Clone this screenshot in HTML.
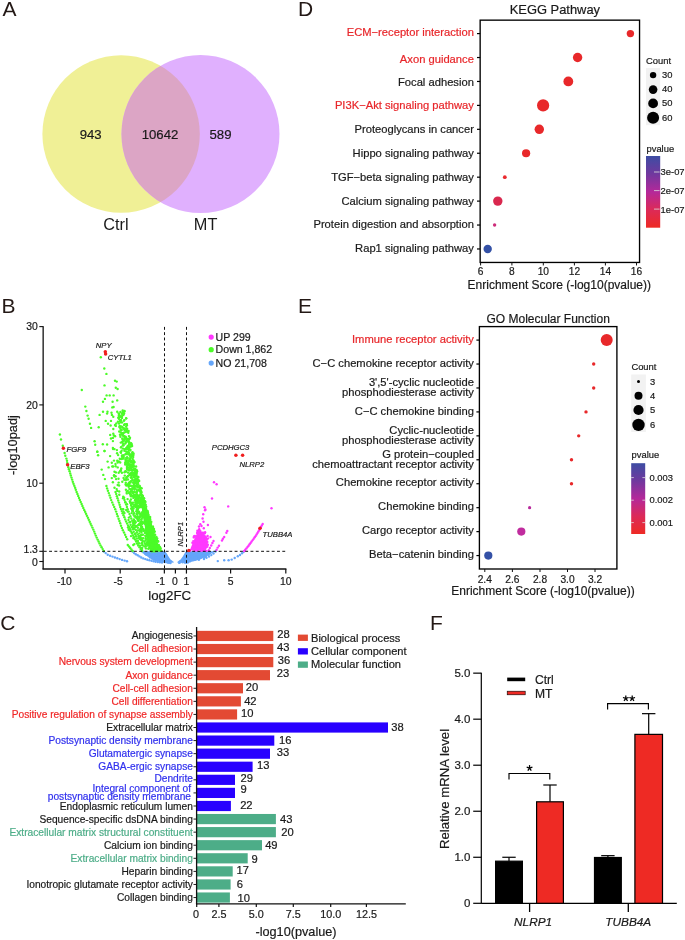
<!DOCTYPE html>
<html><head><meta charset="utf-8"><style>
html,body{margin:0;padding:0;background:#fff;}
body{width:685px;height:940px;overflow:hidden;}
svg{display:block;font-family:"Liberation Sans",sans-serif;will-change:transform;}
</style></head><body>
<svg width="685" height="940" viewBox="0 0 685 940">
<rect width="685" height="940" fill="#fff"/>
<text x="2.60" y="15.60" font-size="21" text-anchor="start" fill="#231815" >A</text>
<text x="1.60" y="313.00" font-size="21" text-anchor="start" fill="#231815" >B</text>
<text x="0.20" y="630.20" font-size="21" text-anchor="start" fill="#231815" >C</text>
<text x="298.00" y="15.70" font-size="21" text-anchor="start" fill="#231815" >D</text>
<text x="298.00" y="312.80" font-size="21" text-anchor="start" fill="#231815" >E</text>
<text x="430.00" y="629.80" font-size="21" text-anchor="start" fill="#231815" >F</text>
<defs><clipPath id="cl"><circle cx="121.1" cy="134" r="78.7"/></clipPath></defs>
<circle cx="121.10" cy="134.00" r="78.70" fill="#F0F096" />
<circle cx="200.50" cy="134.00" r="79.00" fill="#E0B0FE" />
<g clip-path="url(#cl)">
<circle cx="200.50" cy="134.00" r="79.00" fill="#DCA5C5" />
</g>
<text x="90.70" y="138.50" font-size="13.2" text-anchor="middle" fill="#1a1a1a" stroke="#1a1a1a" stroke-width="0.2" >943</text>
<text x="160.00" y="138.50" font-size="13.2" text-anchor="middle" fill="#1a1a1a" stroke="#1a1a1a" stroke-width="0.2" >10642</text>
<text x="220.50" y="138.50" font-size="13.2" text-anchor="middle" fill="#1a1a1a" stroke="#1a1a1a" stroke-width="0.2" >589</text>
<text x="116.00" y="230.40" font-size="16.3" text-anchor="middle" fill="#1a1a1a" >Ctrl</text>
<text x="205.60" y="230.40" font-size="16.3" text-anchor="middle" fill="#1a1a1a" >MT</text>
<polygon points="142.5,551.2 165.0,551.2 166.8,553.5 168.5,556.5 170.5,559.4 172.5,561.0 174.2,562.2 172.0,562.8 166.0,562.3 159.0,561.3 152.0,559.5 146.5,555.5" fill="#64A6FA"/>
<polygon points="186.0,551.2 215.5,551.2 211.5,553.6 206.0,556.8 200.0,559.6 193.0,561.4 185.0,562.5 176.8,562.4 178.5,561.1 180.6,559.4 182.8,556.5 184.5,553.5" fill="#64A6FA"/>
<circle cx="152.8" cy="553.5" r="1.2" fill="#64A6FA"/>
<circle cx="159.5" cy="556.0" r="1.2" fill="#64A6FA"/>
<circle cx="146.4" cy="554.4" r="1.2" fill="#64A6FA"/>
<circle cx="160.8" cy="556.4" r="1.2" fill="#64A6FA"/>
<circle cx="147.1" cy="553.2" r="1.2" fill="#64A6FA"/>
<circle cx="162.8" cy="556.1" r="1.2" fill="#64A6FA"/>
<circle cx="164.1" cy="556.8" r="1.2" fill="#64A6FA"/>
<circle cx="152.5" cy="558.6" r="1.2" fill="#64A6FA"/>
<circle cx="156.9" cy="555.3" r="1.2" fill="#64A6FA"/>
<circle cx="167.7" cy="559.9" r="1.2" fill="#64A6FA"/>
<circle cx="165.6" cy="555.1" r="1.2" fill="#64A6FA"/>
<circle cx="155.8" cy="560.6" r="1.2" fill="#64A6FA"/>
<circle cx="166.7" cy="558.4" r="1.2" fill="#64A6FA"/>
<circle cx="164.5" cy="558.7" r="1.2" fill="#64A6FA"/>
<circle cx="160.9" cy="557.1" r="1.2" fill="#64A6FA"/>
<circle cx="169.1" cy="562.8" r="1.2" fill="#64A6FA"/>
<circle cx="157.5" cy="559.5" r="1.2" fill="#64A6FA"/>
<circle cx="154.7" cy="559.6" r="1.2" fill="#64A6FA"/>
<circle cx="147.8" cy="553.2" r="1.2" fill="#64A6FA"/>
<circle cx="146.6" cy="554.7" r="1.2" fill="#64A6FA"/>
<circle cx="168.5" cy="561.8" r="1.2" fill="#64A6FA"/>
<circle cx="151.3" cy="556.6" r="1.2" fill="#64A6FA"/>
<circle cx="148.1" cy="554.5" r="1.2" fill="#64A6FA"/>
<circle cx="149.9" cy="557.4" r="1.2" fill="#64A6FA"/>
<circle cx="161.2" cy="554.8" r="1.2" fill="#64A6FA"/>
<circle cx="154.2" cy="558.4" r="1.2" fill="#64A6FA"/>
<circle cx="158.8" cy="559.0" r="1.2" fill="#64A6FA"/>
<circle cx="170.2" cy="561.1" r="1.2" fill="#64A6FA"/>
<circle cx="154.9" cy="556.4" r="1.2" fill="#64A6FA"/>
<circle cx="149.1" cy="553.7" r="1.2" fill="#64A6FA"/>
<circle cx="162.0" cy="553.5" r="1.2" fill="#64A6FA"/>
<circle cx="150.5" cy="555.8" r="1.2" fill="#64A6FA"/>
<circle cx="154.0" cy="553.2" r="1.2" fill="#64A6FA"/>
<circle cx="157.3" cy="557.4" r="1.2" fill="#64A6FA"/>
<circle cx="145.2" cy="553.0" r="1.2" fill="#64A6FA"/>
<circle cx="153.4" cy="554.9" r="1.2" fill="#64A6FA"/>
<circle cx="159.2" cy="553.5" r="1.2" fill="#64A6FA"/>
<circle cx="150.8" cy="556.1" r="1.2" fill="#64A6FA"/>
<circle cx="159.4" cy="560.8" r="1.2" fill="#64A6FA"/>
<circle cx="153.0" cy="554.4" r="1.2" fill="#64A6FA"/>
<circle cx="169.5" cy="561.2" r="1.2" fill="#64A6FA"/>
<circle cx="168.4" cy="560.4" r="1.2" fill="#64A6FA"/>
<circle cx="149.5" cy="554.4" r="1.2" fill="#64A6FA"/>
<circle cx="148.7" cy="554.2" r="1.2" fill="#64A6FA"/>
<circle cx="163.2" cy="561.1" r="1.2" fill="#64A6FA"/>
<circle cx="166.3" cy="557.3" r="1.2" fill="#64A6FA"/>
<circle cx="146.5" cy="553.6" r="1.2" fill="#64A6FA"/>
<circle cx="153.6" cy="558.2" r="1.2" fill="#64A6FA"/>
<circle cx="150.5" cy="555.2" r="1.2" fill="#64A6FA"/>
<circle cx="150.7" cy="556.7" r="1.2" fill="#64A6FA"/>
<circle cx="153.7" cy="557.1" r="1.2" fill="#64A6FA"/>
<circle cx="158.4" cy="558.0" r="1.2" fill="#64A6FA"/>
<circle cx="156.5" cy="553.9" r="1.2" fill="#64A6FA"/>
<circle cx="165.5" cy="558.3" r="1.2" fill="#64A6FA"/>
<circle cx="152.8" cy="557.8" r="1.2" fill="#64A6FA"/>
<circle cx="160.1" cy="560.9" r="1.2" fill="#64A6FA"/>
<circle cx="150.4" cy="555.0" r="1.2" fill="#64A6FA"/>
<circle cx="167.0" cy="557.7" r="1.2" fill="#64A6FA"/>
<circle cx="160.3" cy="560.6" r="1.2" fill="#64A6FA"/>
<circle cx="161.9" cy="557.7" r="1.2" fill="#64A6FA"/>
<circle cx="158.7" cy="559.8" r="1.2" fill="#64A6FA"/>
<circle cx="156.8" cy="558.0" r="1.2" fill="#64A6FA"/>
<circle cx="164.7" cy="562.0" r="1.2" fill="#64A6FA"/>
<circle cx="167.4" cy="562.2" r="1.2" fill="#64A6FA"/>
<circle cx="163.4" cy="553.5" r="1.2" fill="#64A6FA"/>
<circle cx="170.5" cy="563.0" r="1.2" fill="#64A6FA"/>
<circle cx="155.1" cy="557.5" r="1.2" fill="#64A6FA"/>
<circle cx="158.8" cy="555.7" r="1.2" fill="#64A6FA"/>
<circle cx="148.7" cy="555.5" r="1.2" fill="#64A6FA"/>
<circle cx="198.2" cy="556.8" r="1.2" fill="#64A6FA"/>
<circle cx="200.9" cy="557.6" r="1.2" fill="#64A6FA"/>
<circle cx="179.3" cy="562.9" r="1.2" fill="#64A6FA"/>
<circle cx="187.3" cy="553.3" r="1.2" fill="#64A6FA"/>
<circle cx="208.5" cy="554.7" r="1.2" fill="#64A6FA"/>
<circle cx="182.6" cy="562.2" r="1.2" fill="#64A6FA"/>
<circle cx="198.9" cy="559.7" r="1.2" fill="#64A6FA"/>
<circle cx="203.4" cy="556.6" r="1.2" fill="#64A6FA"/>
<circle cx="179.6" cy="562.4" r="1.2" fill="#64A6FA"/>
<circle cx="194.4" cy="555.6" r="1.2" fill="#64A6FA"/>
<circle cx="187.2" cy="553.3" r="1.2" fill="#64A6FA"/>
<circle cx="197.2" cy="554.5" r="1.2" fill="#64A6FA"/>
<circle cx="188.9" cy="555.2" r="1.2" fill="#64A6FA"/>
<circle cx="206.2" cy="555.1" r="1.2" fill="#64A6FA"/>
<circle cx="196.2" cy="553.8" r="1.2" fill="#64A6FA"/>
<circle cx="184.1" cy="557.2" r="1.2" fill="#64A6FA"/>
<circle cx="192.0" cy="557.5" r="1.2" fill="#64A6FA"/>
<circle cx="190.1" cy="561.2" r="1.2" fill="#64A6FA"/>
<circle cx="192.5" cy="555.7" r="1.2" fill="#64A6FA"/>
<circle cx="186.7" cy="553.6" r="1.2" fill="#64A6FA"/>
<circle cx="187.7" cy="554.5" r="1.2" fill="#64A6FA"/>
<circle cx="188.1" cy="557.0" r="1.2" fill="#64A6FA"/>
<circle cx="186.3" cy="562.7" r="1.2" fill="#64A6FA"/>
<circle cx="188.8" cy="555.8" r="1.2" fill="#64A6FA"/>
<circle cx="195.2" cy="557.5" r="1.2" fill="#64A6FA"/>
<circle cx="184.6" cy="557.5" r="1.2" fill="#64A6FA"/>
<circle cx="188.6" cy="554.4" r="1.2" fill="#64A6FA"/>
<circle cx="199.5" cy="557.8" r="1.2" fill="#64A6FA"/>
<circle cx="191.9" cy="555.5" r="1.2" fill="#64A6FA"/>
<circle cx="180.9" cy="561.2" r="1.2" fill="#64A6FA"/>
<circle cx="198.4" cy="558.9" r="1.2" fill="#64A6FA"/>
<circle cx="196.3" cy="557.8" r="1.2" fill="#64A6FA"/>
<circle cx="205.3" cy="554.6" r="1.2" fill="#64A6FA"/>
<circle cx="205.0" cy="554.1" r="1.2" fill="#64A6FA"/>
<circle cx="195.9" cy="556.1" r="1.2" fill="#64A6FA"/>
<circle cx="195.3" cy="559.5" r="1.2" fill="#64A6FA"/>
<circle cx="205.6" cy="555.2" r="1.2" fill="#64A6FA"/>
<circle cx="202.9" cy="555.1" r="1.2" fill="#64A6FA"/>
<circle cx="196.8" cy="557.1" r="1.2" fill="#64A6FA"/>
<circle cx="194.8" cy="553.1" r="1.2" fill="#64A6FA"/>
<circle cx="194.2" cy="554.8" r="1.2" fill="#64A6FA"/>
<circle cx="184.9" cy="562.5" r="1.2" fill="#64A6FA"/>
<circle cx="185.0" cy="558.4" r="1.2" fill="#64A6FA"/>
<circle cx="185.8" cy="561.9" r="1.2" fill="#64A6FA"/>
<circle cx="194.2" cy="555.2" r="1.2" fill="#64A6FA"/>
<circle cx="189.0" cy="561.3" r="1.2" fill="#64A6FA"/>
<circle cx="209.3" cy="553.2" r="1.2" fill="#64A6FA"/>
<circle cx="191.2" cy="556.2" r="1.2" fill="#64A6FA"/>
<circle cx="190.8" cy="556.6" r="1.2" fill="#64A6FA"/>
<circle cx="180.7" cy="561.2" r="1.2" fill="#64A6FA"/>
<circle cx="187.9" cy="562.4" r="1.2" fill="#64A6FA"/>
<circle cx="186.4" cy="554.8" r="1.2" fill="#64A6FA"/>
<circle cx="196.6" cy="553.9" r="1.2" fill="#64A6FA"/>
<circle cx="205.1" cy="556.9" r="1.2" fill="#64A6FA"/>
<circle cx="195.1" cy="555.7" r="1.2" fill="#64A6FA"/>
<circle cx="188.3" cy="560.2" r="1.2" fill="#64A6FA"/>
<circle cx="202.2" cy="555.2" r="1.2" fill="#64A6FA"/>
<circle cx="198.4" cy="556.3" r="1.2" fill="#64A6FA"/>
<circle cx="184.8" cy="562.0" r="1.2" fill="#64A6FA"/>
<circle cx="196.0" cy="554.3" r="1.2" fill="#64A6FA"/>
<circle cx="194.2" cy="553.4" r="1.2" fill="#64A6FA"/>
<circle cx="190.0" cy="552.8" r="1.2" fill="#64A6FA"/>
<circle cx="186.1" cy="554.7" r="1.2" fill="#64A6FA"/>
<circle cx="205.8" cy="556.5" r="1.2" fill="#64A6FA"/>
<circle cx="192.8" cy="557.7" r="1.2" fill="#64A6FA"/>
<circle cx="191.4" cy="555.6" r="1.2" fill="#64A6FA"/>
<circle cx="196.3" cy="558.9" r="1.2" fill="#64A6FA"/>
<circle cx="187.3" cy="554.6" r="1.2" fill="#64A6FA"/>
<circle cx="192.3" cy="556.8" r="1.2" fill="#64A6FA"/>
<circle cx="103.8" cy="551.5" r="1.2" fill="#64A6FA"/>
<circle cx="105.7" cy="553.1" r="1.2" fill="#64A6FA"/>
<circle cx="107.7" cy="554.7" r="1.2" fill="#64A6FA"/>
<circle cx="110.1" cy="555.7" r="1.2" fill="#64A6FA"/>
<circle cx="112.5" cy="556.6" r="1.2" fill="#64A6FA"/>
<circle cx="114.9" cy="557.5" r="1.2" fill="#64A6FA"/>
<circle cx="117.3" cy="558.3" r="1.2" fill="#64A6FA"/>
<circle cx="119.7" cy="559.1" r="1.2" fill="#64A6FA"/>
<circle cx="122.1" cy="559.9" r="1.2" fill="#64A6FA"/>
<circle cx="124.6" cy="560.6" r="1.2" fill="#64A6FA"/>
<circle cx="127.0" cy="561.3" r="1.2" fill="#64A6FA"/>
<circle cx="132.6" cy="551.5" r="1.2" fill="#64A6FA"/>
<circle cx="134.1" cy="553.1" r="1.2" fill="#64A6FA"/>
<circle cx="135.8" cy="554.2" r="1.2" fill="#64A6FA"/>
<circle cx="137.7" cy="555.3" r="1.2" fill="#64A6FA"/>
<circle cx="139.5" cy="556.4" r="1.2" fill="#64A6FA"/>
<circle cx="141.3" cy="557.5" r="1.2" fill="#64A6FA"/>
<circle cx="143.3" cy="558.4" r="1.2" fill="#64A6FA"/>
<circle cx="145.3" cy="559.1" r="1.2" fill="#64A6FA"/>
<circle cx="147.3" cy="559.8" r="1.2" fill="#64A6FA"/>
<circle cx="149.4" cy="560.3" r="1.2" fill="#64A6FA"/>
<circle cx="151.5" cy="560.8" r="1.2" fill="#64A6FA"/>
<circle cx="153.6" cy="561.3" r="1.2" fill="#64A6FA"/>
<circle cx="155.6" cy="561.7" r="1.2" fill="#64A6FA"/>
<circle cx="157.8" cy="562.0" r="1.2" fill="#64A6FA"/>
<circle cx="159.9" cy="562.3" r="1.2" fill="#64A6FA"/>
<circle cx="162.0" cy="562.6" r="1.2" fill="#64A6FA"/>
<circle cx="142.1" cy="551.3" r="1.2" fill="#64A6FA"/>
<circle cx="143.6" cy="552.5" r="1.2" fill="#64A6FA"/>
<circle cx="145.0" cy="553.7" r="1.2" fill="#64A6FA"/>
<circle cx="146.6" cy="554.8" r="1.2" fill="#64A6FA"/>
<circle cx="148.3" cy="555.6" r="1.2" fill="#64A6FA"/>
<circle cx="150.0" cy="556.5" r="1.2" fill="#64A6FA"/>
<circle cx="151.7" cy="557.3" r="1.2" fill="#64A6FA"/>
<circle cx="153.5" cy="558.1" r="1.2" fill="#64A6FA"/>
<circle cx="155.2" cy="558.7" r="1.2" fill="#64A6FA"/>
<circle cx="157.0" cy="559.4" r="1.2" fill="#64A6FA"/>
<circle cx="158.8" cy="560.1" r="1.2" fill="#64A6FA"/>
<circle cx="160.6" cy="560.7" r="1.2" fill="#64A6FA"/>
<circle cx="162.5" cy="561.1" r="1.2" fill="#64A6FA"/>
<circle cx="164.3" cy="561.6" r="1.2" fill="#64A6FA"/>
<circle cx="166.2" cy="562.0" r="1.2" fill="#64A6FA"/>
<circle cx="168.0" cy="562.5" r="1.2" fill="#64A6FA"/>
<circle cx="217.8" cy="561.1" r="1.2" fill="#64A6FA"/>
<circle cx="224.2" cy="560.3" r="1.2" fill="#64A6FA"/>
<circle cx="228.6" cy="560.3" r="1.2" fill="#64A6FA"/>
<circle cx="231.7" cy="559.6" r="1.2" fill="#64A6FA"/>
<circle cx="234.7" cy="558.0" r="1.2" fill="#64A6FA"/>
<circle cx="237.8" cy="556.3" r="1.2" fill="#64A6FA"/>
<circle cx="240.0" cy="555.0" r="1.2" fill="#64A6FA"/>
<circle cx="242.0" cy="553.2" r="1.2" fill="#64A6FA"/>
<circle cx="243.6" cy="551.8" r="1.2" fill="#64A6FA"/>
<circle cx="215.5" cy="551.5" r="1.2" fill="#64A6FA"/>
<circle cx="213.5" cy="553.5" r="1.2" fill="#64A6FA"/>
<circle cx="211.3" cy="555.1" r="1.2" fill="#64A6FA"/>
<circle cx="209.0" cy="556.5" r="1.2" fill="#64A6FA"/>
<circle cx="206.5" cy="557.8" r="1.2" fill="#64A6FA"/>
<circle cx="204.0" cy="559.0" r="1.2" fill="#64A6FA"/>
<circle cx="59.9" cy="434.5" r="1.2" fill="#4BFB28"/>
<circle cx="61.0" cy="439.5" r="1.2" fill="#4BFB28"/>
<circle cx="62.8" cy="445.8" r="1.2" fill="#4BFB28"/>
<circle cx="64.6" cy="453.0" r="1.2" fill="#4BFB28"/>
<circle cx="65.3" cy="455.7" r="1.2" fill="#4BFB28"/>
<circle cx="66.4" cy="458.6" r="1.2" fill="#4BFB28"/>
<circle cx="67.0" cy="460.8" r="1.2" fill="#4BFB28"/>
<circle cx="67.3" cy="462.9" r="1.2" fill="#4BFB28"/>
<circle cx="67.7" cy="465.1" r="1.2" fill="#4BFB28"/>
<circle cx="68.3" cy="467.2" r="1.2" fill="#4BFB28"/>
<circle cx="68.9" cy="469.2" r="1.2" fill="#4BFB28"/>
<circle cx="69.6" cy="471.3" r="1.2" fill="#4BFB28"/>
<circle cx="70.2" cy="473.4" r="1.2" fill="#4BFB28"/>
<circle cx="70.8" cy="475.5" r="1.2" fill="#4BFB28"/>
<circle cx="71.5" cy="477.6" r="1.2" fill="#4BFB28"/>
<circle cx="72.1" cy="479.6" r="1.2" fill="#4BFB28"/>
<circle cx="72.8" cy="481.7" r="1.2" fill="#4BFB28"/>
<circle cx="73.5" cy="483.7" r="1.2" fill="#4BFB28"/>
<circle cx="74.3" cy="485.8" r="1.2" fill="#4BFB28"/>
<circle cx="75.1" cy="487.8" r="1.2" fill="#4BFB28"/>
<circle cx="75.8" cy="489.8" r="1.2" fill="#4BFB28"/>
<circle cx="76.6" cy="491.9" r="1.2" fill="#4BFB28"/>
<circle cx="77.4" cy="493.9" r="1.2" fill="#4BFB28"/>
<circle cx="78.2" cy="495.9" r="1.2" fill="#4BFB28"/>
<circle cx="79.0" cy="497.9" r="1.2" fill="#4BFB28"/>
<circle cx="79.8" cy="499.9" r="1.2" fill="#4BFB28"/>
<circle cx="80.7" cy="501.9" r="1.2" fill="#4BFB28"/>
<circle cx="81.6" cy="503.9" r="1.2" fill="#4BFB28"/>
<circle cx="82.4" cy="505.9" r="1.2" fill="#4BFB28"/>
<circle cx="83.3" cy="507.9" r="1.2" fill="#4BFB28"/>
<circle cx="84.2" cy="509.9" r="1.2" fill="#4BFB28"/>
<circle cx="85.1" cy="511.8" r="1.2" fill="#4BFB28"/>
<circle cx="86.0" cy="513.8" r="1.2" fill="#4BFB28"/>
<circle cx="86.9" cy="515.8" r="1.2" fill="#4BFB28"/>
<circle cx="87.9" cy="517.7" r="1.2" fill="#4BFB28"/>
<circle cx="88.8" cy="519.7" r="1.2" fill="#4BFB28"/>
<circle cx="89.7" cy="521.7" r="1.2" fill="#4BFB28"/>
<circle cx="90.6" cy="523.7" r="1.2" fill="#4BFB28"/>
<circle cx="91.5" cy="525.6" r="1.2" fill="#4BFB28"/>
<circle cx="92.4" cy="527.6" r="1.2" fill="#4BFB28"/>
<circle cx="93.3" cy="529.6" r="1.2" fill="#4BFB28"/>
<circle cx="94.2" cy="531.6" r="1.2" fill="#4BFB28"/>
<circle cx="95.0" cy="533.6" r="1.2" fill="#4BFB28"/>
<circle cx="95.8" cy="535.6" r="1.2" fill="#4BFB28"/>
<circle cx="96.7" cy="537.6" r="1.2" fill="#4BFB28"/>
<circle cx="97.6" cy="539.6" r="1.2" fill="#4BFB28"/>
<circle cx="98.6" cy="541.5" r="1.2" fill="#4BFB28"/>
<circle cx="99.5" cy="543.4" r="1.2" fill="#4BFB28"/>
<circle cx="100.5" cy="545.4" r="1.2" fill="#4BFB28"/>
<circle cx="101.6" cy="547.2" r="1.2" fill="#4BFB28"/>
<circle cx="102.7" cy="549.1" r="1.2" fill="#4BFB28"/>
<circle cx="103.8" cy="551.0" r="1.2" fill="#4BFB28"/>
<circle cx="81.8" cy="390.0" r="1.2" fill="#4BFB28"/>
<circle cx="85.3" cy="406.6" r="1.2" fill="#4BFB28"/>
<circle cx="86.4" cy="411.0" r="1.2" fill="#4BFB28"/>
<circle cx="87.6" cy="415.6" r="1.2" fill="#4BFB28"/>
<circle cx="88.6" cy="418.8" r="1.2" fill="#4BFB28"/>
<circle cx="89.9" cy="423.8" r="1.2" fill="#4BFB28"/>
<circle cx="91.1" cy="427.9" r="1.2" fill="#4BFB28"/>
<circle cx="94.6" cy="441.3" r="1.2" fill="#4BFB28"/>
<circle cx="95.2" cy="444.8" r="1.2" fill="#4BFB28"/>
<circle cx="97.3" cy="451.8" r="1.2" fill="#4BFB28"/>
<circle cx="98.1" cy="455.3" r="1.2" fill="#4BFB28"/>
<circle cx="101.7" cy="469.6" r="1.2" fill="#4BFB28"/>
<circle cx="103.3" cy="474.9" r="1.2" fill="#4BFB28"/>
<circle cx="104.9" cy="479.1" r="1.2" fill="#4BFB28"/>
<circle cx="106.4" cy="486.0" r="1.2" fill="#4BFB28"/>
<circle cx="107.1" cy="488.4" r="1.2" fill="#4BFB28"/>
<circle cx="107.9" cy="490.7" r="1.2" fill="#4BFB28"/>
<circle cx="108.8" cy="493.1" r="1.2" fill="#4BFB28"/>
<circle cx="109.6" cy="495.4" r="1.2" fill="#4BFB28"/>
<circle cx="110.4" cy="497.8" r="1.2" fill="#4BFB28"/>
<circle cx="111.2" cy="500.1" r="1.2" fill="#4BFB28"/>
<circle cx="112.2" cy="502.4" r="1.2" fill="#4BFB28"/>
<circle cx="113.2" cy="504.7" r="1.2" fill="#4BFB28"/>
<circle cx="114.2" cy="507.0" r="1.2" fill="#4BFB28"/>
<circle cx="115.2" cy="509.3" r="1.2" fill="#4BFB28"/>
<circle cx="116.1" cy="511.6" r="1.2" fill="#4BFB28"/>
<circle cx="116.9" cy="514.0" r="1.2" fill="#4BFB28"/>
<circle cx="117.7" cy="516.3" r="1.2" fill="#4BFB28"/>
<circle cx="118.6" cy="518.7" r="1.2" fill="#4BFB28"/>
<circle cx="119.4" cy="521.0" r="1.2" fill="#4BFB28"/>
<circle cx="120.2" cy="523.3" r="1.2" fill="#4BFB28"/>
<circle cx="121.0" cy="525.7" r="1.2" fill="#4BFB28"/>
<circle cx="121.9" cy="528.0" r="1.2" fill="#4BFB28"/>
<circle cx="122.9" cy="530.3" r="1.2" fill="#4BFB28"/>
<circle cx="124.0" cy="532.5" r="1.2" fill="#4BFB28"/>
<circle cx="125.1" cy="534.8" r="1.2" fill="#4BFB28"/>
<circle cx="126.1" cy="537.0" r="1.2" fill="#4BFB28"/>
<circle cx="127.2" cy="539.3" r="1.2" fill="#4BFB28"/>
<circle cx="127.8" cy="545.0" r="1.2" fill="#4BFB28"/>
<circle cx="129.0" cy="546.5" r="1.2" fill="#4BFB28"/>
<circle cx="130.2" cy="548.0" r="1.2" fill="#4BFB28"/>
<circle cx="131.4" cy="549.5" r="1.2" fill="#4BFB28"/>
<circle cx="132.6" cy="551.0" r="1.2" fill="#4BFB28"/>
<circle cx="115.5" cy="491.9" r="1.2" fill="#4BFB28"/>
<circle cx="116.2" cy="494.0" r="1.2" fill="#4BFB28"/>
<circle cx="116.9" cy="496.2" r="1.2" fill="#4BFB28"/>
<circle cx="117.5" cy="498.3" r="1.2" fill="#4BFB28"/>
<circle cx="118.2" cy="500.5" r="1.2" fill="#4BFB28"/>
<circle cx="118.9" cy="502.6" r="1.2" fill="#4BFB28"/>
<circle cx="119.6" cy="504.7" r="1.2" fill="#4BFB28"/>
<circle cx="120.2" cy="506.9" r="1.2" fill="#4BFB28"/>
<circle cx="120.9" cy="509.0" r="1.2" fill="#4BFB28"/>
<circle cx="121.8" cy="511.1" r="1.2" fill="#4BFB28"/>
<circle cx="122.6" cy="513.2" r="1.2" fill="#4BFB28"/>
<circle cx="123.5" cy="515.2" r="1.2" fill="#4BFB28"/>
<circle cx="124.4" cy="517.3" r="1.2" fill="#4BFB28"/>
<circle cx="125.2" cy="519.4" r="1.2" fill="#4BFB28"/>
<circle cx="126.1" cy="521.5" r="1.2" fill="#4BFB28"/>
<circle cx="127.1" cy="523.5" r="1.2" fill="#4BFB28"/>
<circle cx="128.1" cy="525.5" r="1.2" fill="#4BFB28"/>
<circle cx="129.1" cy="527.5" r="1.2" fill="#4BFB28"/>
<circle cx="130.1" cy="529.5" r="1.2" fill="#4BFB28"/>
<circle cx="131.1" cy="531.5" r="1.2" fill="#4BFB28"/>
<circle cx="132.1" cy="533.5" r="1.2" fill="#4BFB28"/>
<circle cx="133.1" cy="535.5" r="1.2" fill="#4BFB28"/>
<circle cx="134.1" cy="537.5" r="1.2" fill="#4BFB28"/>
<circle cx="135.1" cy="539.5" r="1.2" fill="#4BFB28"/>
<circle cx="136.1" cy="541.5" r="1.2" fill="#4BFB28"/>
<circle cx="137.1" cy="543.5" r="1.2" fill="#4BFB28"/>
<circle cx="138.2" cy="545.5" r="1.2" fill="#4BFB28"/>
<circle cx="139.5" cy="547.3" r="1.2" fill="#4BFB28"/>
<circle cx="140.8" cy="549.2" r="1.2" fill="#4BFB28"/>
<circle cx="142.1" cy="551.0" r="1.2" fill="#4BFB28"/>
<circle cx="98.7" cy="427.3" r="1.2" fill="#4BFB28"/>
<circle cx="102.8" cy="444.2" r="1.2" fill="#4BFB28"/>
<circle cx="104.5" cy="451.0" r="1.2" fill="#4BFB28"/>
<circle cx="107.6" cy="461.6" r="1.2" fill="#4BFB28"/>
<circle cx="110.1" cy="456.1" r="1.2" fill="#4BFB28"/>
<circle cx="111.8" cy="462.7" r="1.2" fill="#4BFB28"/>
<circle cx="108.6" cy="467.4" r="1.2" fill="#4BFB28"/>
<circle cx="112.3" cy="466.4" r="1.2" fill="#4BFB28"/>
<circle cx="114.5" cy="471.7" r="1.2" fill="#4BFB28"/>
<circle cx="111.8" cy="478.1" r="1.2" fill="#4BFB28"/>
<circle cx="112.9" cy="482.3" r="1.2" fill="#4BFB28"/>
<circle cx="116.1" cy="479.1" r="1.2" fill="#4BFB28"/>
<circle cx="117.7" cy="485.0" r="1.2" fill="#4BFB28"/>
<circle cx="114.5" cy="487.7" r="1.2" fill="#4BFB28"/>
<circle cx="118.7" cy="472.8" r="1.2" fill="#4BFB28"/>
<circle cx="121.9" cy="472.8" r="1.2" fill="#4BFB28"/>
<circle cx="117.7" cy="467.4" r="1.2" fill="#4BFB28"/>
<circle cx="100.8" cy="357.3" r="1.2" fill="#4BFB28"/>
<circle cx="104.3" cy="368.5" r="1.2" fill="#4BFB28"/>
<circle cx="106.4" cy="373.9" r="1.2" fill="#4BFB28"/>
<circle cx="115.0" cy="380.7" r="1.2" fill="#4BFB28"/>
<circle cx="116.7" cy="381.6" r="1.2" fill="#4BFB28"/>
<circle cx="104.5" cy="385.4" r="1.2" fill="#4BFB28"/>
<circle cx="115.8" cy="387.7" r="1.2" fill="#4BFB28"/>
<circle cx="117.6" cy="389.0" r="1.2" fill="#4BFB28"/>
<circle cx="106.6" cy="395.4" r="1.2" fill="#4BFB28"/>
<circle cx="109.7" cy="395.4" r="1.2" fill="#4BFB28"/>
<circle cx="113.6" cy="395.4" r="1.2" fill="#4BFB28"/>
<circle cx="104.9" cy="398.9" r="1.2" fill="#4BFB28"/>
<circle cx="103.0" cy="401.8" r="1.2" fill="#4BFB28"/>
<circle cx="117.2" cy="400.4" r="1.2" fill="#4BFB28"/>
<circle cx="112.6" cy="401.8" r="1.2" fill="#4BFB28"/>
<circle cx="112.3" cy="407.4" r="1.2" fill="#4BFB28"/>
<circle cx="113.6" cy="407.0" r="1.2" fill="#4BFB28"/>
<circle cx="103.0" cy="411.8" r="1.2" fill="#4BFB28"/>
<circle cx="99.6" cy="414.9" r="1.2" fill="#4BFB28"/>
<circle cx="107.5" cy="411.8" r="1.2" fill="#4BFB28"/>
<circle cx="107.1" cy="413.6" r="1.2" fill="#4BFB28"/>
<circle cx="111.5" cy="412.7" r="1.2" fill="#4BFB28"/>
<circle cx="111.9" cy="414.9" r="1.2" fill="#4BFB28"/>
<circle cx="113.3" cy="416.8" r="1.2" fill="#4BFB28"/>
<circle cx="105.7" cy="420.9" r="1.2" fill="#4BFB28"/>
<circle cx="108.0" cy="423.8" r="1.2" fill="#4BFB28"/>
<circle cx="110.6" cy="425.5" r="1.2" fill="#4BFB28"/>
<circle cx="111.0" cy="420.9" r="1.2" fill="#4BFB28"/>
<circle cx="115.0" cy="425.0" r="1.2" fill="#4BFB28"/>
<circle cx="113.3" cy="429.0" r="1.2" fill="#4BFB28"/>
<circle cx="113.3" cy="433.7" r="1.2" fill="#4BFB28"/>
<circle cx="113.9" cy="435.5" r="1.2" fill="#4BFB28"/>
<circle cx="107.1" cy="444.5" r="1.2" fill="#4BFB28"/>
<circle cx="97.3" cy="451.8" r="1.2" fill="#4BFB28"/>
<circle cx="104.5" cy="451.0" r="1.2" fill="#4BFB28"/>
<polygon points="136.7,472.0 137.1,474.0 137.5,476.0 137.9,478.0 138.3,480.0 138.8,482.0 139.3,484.0 139.8,486.0 140.4,488.0 141.0,490.0 141.6,492.0 142.2,494.0 142.8,496.0 143.3,498.0 143.8,500.0 144.3,502.0 144.8,504.0 145.4,506.0 146.1,508.0 146.8,510.0 147.5,512.0 148.2,514.0 148.8,516.0 149.5,518.0 150.1,520.0 150.7,522.0 151.4,524.0 152.0,526.0 152.7,528.0 153.4,530.0 154.1,532.0 154.8,534.0 155.5,536.0 156.1,538.0 156.8,540.0 157.4,542.0 158.0,544.0 158.7,546.0 159.8,548.0 161.1,550.0 161.5,550.5 150.4,550.5 150.2,550.0 149.2,548.0 148.4,546.0 147.7,544.0 147.4,542.0 147.1,540.0 146.8,538.0 146.5,536.0 146.1,534.0 145.8,532.0 145.4,530.0 145.1,528.0 144.7,526.0 144.4,524.0 144.1,522.0 143.8,520.0 143.5,518.0 143.1,516.0 142.8,514.0 142.4,512.0 142.1,510.0 141.7,508.0 141.3,506.0 141.1,504.0 140.8,502.0 140.6,500.0 140.4,498.0 140.2,496.0 139.9,494.0 139.6,492.0 139.3,490.0 139.0,488.0 138.7,486.0 138.5,484.0 138.3,482.0 138.0,480.0 137.9,478.0 137.5,476.0 137.1,474.0 136.7,472.0" fill="#4BFB28"/>
<circle cx="124.5" cy="410.9" r="1.2" fill="#4BFB28"/>
<circle cx="122.7" cy="410.5" r="1.2" fill="#4BFB28"/>
<circle cx="120.4" cy="412.0" r="1.2" fill="#4BFB28"/>
<circle cx="124.4" cy="411.4" r="1.2" fill="#4BFB28"/>
<circle cx="117.2" cy="411.7" r="1.2" fill="#4BFB28"/>
<circle cx="123.0" cy="411.9" r="1.2" fill="#4BFB28"/>
<circle cx="122.9" cy="412.8" r="1.2" fill="#4BFB28"/>
<circle cx="124.0" cy="413.2" r="1.2" fill="#4BFB28"/>
<circle cx="122.8" cy="412.4" r="1.2" fill="#4BFB28"/>
<circle cx="119.1" cy="414.1" r="1.2" fill="#4BFB28"/>
<circle cx="121.9" cy="413.8" r="1.2" fill="#4BFB28"/>
<circle cx="118.7" cy="413.5" r="1.2" fill="#4BFB28"/>
<circle cx="119.7" cy="415.6" r="1.2" fill="#4BFB28"/>
<circle cx="123.1" cy="415.1" r="1.2" fill="#4BFB28"/>
<circle cx="118.9" cy="415.6" r="1.2" fill="#4BFB28"/>
<circle cx="123.6" cy="414.6" r="1.2" fill="#4BFB28"/>
<circle cx="121.8" cy="416.2" r="1.2" fill="#4BFB28"/>
<circle cx="119.2" cy="416.7" r="1.2" fill="#4BFB28"/>
<circle cx="120.2" cy="416.4" r="1.2" fill="#4BFB28"/>
<circle cx="118.5" cy="417.6" r="1.2" fill="#4BFB28"/>
<circle cx="122.0" cy="417.9" r="1.2" fill="#4BFB28"/>
<circle cx="119.9" cy="417.1" r="1.2" fill="#4BFB28"/>
<circle cx="118.8" cy="417.2" r="1.2" fill="#4BFB28"/>
<circle cx="126.2" cy="418.2" r="1.2" fill="#4BFB28"/>
<circle cx="119.0" cy="418.7" r="1.2" fill="#4BFB28"/>
<circle cx="126.1" cy="418.4" r="1.2" fill="#4BFB28"/>
<circle cx="118.8" cy="418.2" r="1.2" fill="#4BFB28"/>
<circle cx="121.1" cy="420.1" r="1.2" fill="#4BFB28"/>
<circle cx="124.4" cy="420.1" r="1.2" fill="#4BFB28"/>
<circle cx="120.3" cy="420.1" r="1.2" fill="#4BFB28"/>
<circle cx="123.9" cy="420.7" r="1.2" fill="#4BFB28"/>
<circle cx="120.5" cy="420.4" r="1.2" fill="#4BFB28"/>
<circle cx="119.9" cy="421.3" r="1.2" fill="#4BFB28"/>
<circle cx="117.9" cy="421.7" r="1.2" fill="#4BFB28"/>
<circle cx="120.9" cy="422.3" r="1.2" fill="#4BFB28"/>
<circle cx="122.1" cy="422.4" r="1.2" fill="#4BFB28"/>
<circle cx="119.0" cy="423.5" r="1.2" fill="#4BFB28"/>
<circle cx="116.3" cy="423.5" r="1.2" fill="#4BFB28"/>
<circle cx="126.5" cy="424.5" r="1.2" fill="#4BFB28"/>
<circle cx="126.3" cy="424.1" r="1.2" fill="#4BFB28"/>
<circle cx="126.8" cy="424.1" r="1.2" fill="#4BFB28"/>
<circle cx="124.7" cy="424.1" r="1.2" fill="#4BFB28"/>
<circle cx="115.8" cy="425.9" r="1.2" fill="#4BFB28"/>
<circle cx="124.1" cy="425.0" r="1.2" fill="#4BFB28"/>
<circle cx="119.8" cy="425.9" r="1.2" fill="#4BFB28"/>
<circle cx="126.9" cy="425.2" r="1.2" fill="#4BFB28"/>
<circle cx="122.3" cy="427.0" r="1.2" fill="#4BFB28"/>
<circle cx="119.4" cy="426.8" r="1.2" fill="#4BFB28"/>
<circle cx="126.1" cy="426.7" r="1.2" fill="#4BFB28"/>
<circle cx="121.2" cy="426.5" r="1.2" fill="#4BFB28"/>
<circle cx="119.8" cy="427.5" r="1.2" fill="#4BFB28"/>
<circle cx="123.8" cy="428.2" r="1.2" fill="#4BFB28"/>
<circle cx="127.1" cy="428.7" r="1.2" fill="#4BFB28"/>
<circle cx="123.5" cy="428.8" r="1.2" fill="#4BFB28"/>
<circle cx="120.6" cy="429.0" r="1.2" fill="#4BFB28"/>
<circle cx="125.2" cy="429.2" r="1.2" fill="#4BFB28"/>
<circle cx="125.4" cy="430.4" r="1.2" fill="#4BFB28"/>
<circle cx="121.6" cy="429.9" r="1.2" fill="#4BFB28"/>
<circle cx="126.1" cy="429.8" r="1.2" fill="#4BFB28"/>
<circle cx="121.0" cy="430.4" r="1.2" fill="#4BFB28"/>
<circle cx="124.6" cy="429.9" r="1.2" fill="#4BFB28"/>
<circle cx="128.6" cy="430.9" r="1.2" fill="#4BFB28"/>
<circle cx="127.0" cy="431.7" r="1.2" fill="#4BFB28"/>
<circle cx="119.2" cy="431.5" r="1.2" fill="#4BFB28"/>
<circle cx="127.3" cy="430.7" r="1.2" fill="#4BFB28"/>
<circle cx="120.8" cy="432.4" r="1.2" fill="#4BFB28"/>
<circle cx="128.3" cy="432.7" r="1.2" fill="#4BFB28"/>
<circle cx="123.8" cy="432.6" r="1.2" fill="#4BFB28"/>
<circle cx="125.3" cy="432.1" r="1.2" fill="#4BFB28"/>
<circle cx="123.2" cy="433.2" r="1.2" fill="#4BFB28"/>
<circle cx="121.9" cy="433.7" r="1.2" fill="#4BFB28"/>
<circle cx="122.8" cy="433.2" r="1.2" fill="#4BFB28"/>
<circle cx="122.6" cy="433.8" r="1.2" fill="#4BFB28"/>
<circle cx="120.0" cy="434.7" r="1.2" fill="#4BFB28"/>
<circle cx="121.0" cy="434.6" r="1.2" fill="#4BFB28"/>
<circle cx="122.5" cy="435.1" r="1.2" fill="#4BFB28"/>
<circle cx="123.2" cy="435.7" r="1.2" fill="#4BFB28"/>
<circle cx="124.3" cy="436.3" r="1.2" fill="#4BFB28"/>
<circle cx="123.7" cy="436.0" r="1.2" fill="#4BFB28"/>
<circle cx="128.9" cy="436.1" r="1.2" fill="#4BFB28"/>
<circle cx="124.5" cy="436.9" r="1.2" fill="#4BFB28"/>
<circle cx="126.0" cy="437.4" r="1.2" fill="#4BFB28"/>
<circle cx="120.4" cy="436.8" r="1.2" fill="#4BFB28"/>
<circle cx="125.5" cy="436.7" r="1.2" fill="#4BFB28"/>
<circle cx="125.9" cy="437.7" r="1.2" fill="#4BFB28"/>
<circle cx="125.6" cy="438.6" r="1.2" fill="#4BFB28"/>
<circle cx="122.3" cy="438.5" r="1.2" fill="#4BFB28"/>
<circle cx="130.0" cy="437.7" r="1.2" fill="#4BFB28"/>
<circle cx="129.6" cy="438.5" r="1.2" fill="#4BFB28"/>
<circle cx="127.2" cy="438.9" r="1.2" fill="#4BFB28"/>
<circle cx="128.7" cy="439.2" r="1.2" fill="#4BFB28"/>
<circle cx="129.2" cy="438.9" r="1.2" fill="#4BFB28"/>
<circle cx="122.8" cy="439.3" r="1.2" fill="#4BFB28"/>
<circle cx="124.8" cy="439.0" r="1.2" fill="#4BFB28"/>
<circle cx="128.4" cy="439.9" r="1.2" fill="#4BFB28"/>
<circle cx="126.9" cy="439.9" r="1.2" fill="#4BFB28"/>
<circle cx="127.2" cy="440.5" r="1.2" fill="#4BFB28"/>
<circle cx="124.2" cy="440.5" r="1.2" fill="#4BFB28"/>
<circle cx="125.7" cy="441.5" r="1.2" fill="#4BFB28"/>
<circle cx="127.7" cy="441.3" r="1.2" fill="#4BFB28"/>
<circle cx="129.0" cy="441.5" r="1.2" fill="#4BFB28"/>
<circle cx="122.7" cy="441.2" r="1.2" fill="#4BFB28"/>
<circle cx="122.1" cy="442.3" r="1.2" fill="#4BFB28"/>
<circle cx="126.1" cy="442.2" r="1.2" fill="#4BFB28"/>
<circle cx="129.0" cy="442.7" r="1.2" fill="#4BFB28"/>
<circle cx="120.8" cy="442.6" r="1.2" fill="#4BFB28"/>
<circle cx="130.9" cy="443.1" r="1.2" fill="#4BFB28"/>
<circle cx="131.6" cy="444.2" r="1.2" fill="#4BFB28"/>
<circle cx="123.3" cy="443.8" r="1.2" fill="#4BFB28"/>
<circle cx="131.2" cy="443.5" r="1.2" fill="#4BFB28"/>
<circle cx="129.7" cy="443.4" r="1.2" fill="#4BFB28"/>
<circle cx="125.3" cy="443.5" r="1.2" fill="#4BFB28"/>
<circle cx="130.7" cy="444.2" r="1.2" fill="#4BFB28"/>
<circle cx="122.7" cy="445.4" r="1.2" fill="#4BFB28"/>
<circle cx="123.6" cy="445.0" r="1.2" fill="#4BFB28"/>
<circle cx="123.3" cy="445.4" r="1.2" fill="#4BFB28"/>
<circle cx="129.0" cy="444.7" r="1.2" fill="#4BFB28"/>
<circle cx="127.7" cy="446.0" r="1.2" fill="#4BFB28"/>
<circle cx="131.1" cy="446.2" r="1.2" fill="#4BFB28"/>
<circle cx="132.1" cy="446.0" r="1.2" fill="#4BFB28"/>
<circle cx="130.4" cy="446.6" r="1.2" fill="#4BFB28"/>
<circle cx="128.2" cy="446.4" r="1.2" fill="#4BFB28"/>
<circle cx="126.9" cy="447.5" r="1.2" fill="#4BFB28"/>
<circle cx="121.3" cy="447.1" r="1.2" fill="#4BFB28"/>
<circle cx="129.1" cy="447.4" r="1.2" fill="#4BFB28"/>
<circle cx="129.3" cy="446.8" r="1.2" fill="#4BFB28"/>
<circle cx="120.9" cy="447.4" r="1.2" fill="#4BFB28"/>
<circle cx="126.8" cy="447.7" r="1.2" fill="#4BFB28"/>
<circle cx="123.0" cy="448.6" r="1.2" fill="#4BFB28"/>
<circle cx="126.1" cy="448.5" r="1.2" fill="#4BFB28"/>
<circle cx="128.8" cy="448.6" r="1.2" fill="#4BFB28"/>
<circle cx="127.5" cy="448.9" r="1.2" fill="#4BFB28"/>
<circle cx="124.8" cy="449.2" r="1.2" fill="#4BFB28"/>
<circle cx="129.5" cy="449.9" r="1.2" fill="#4BFB28"/>
<circle cx="126.9" cy="449.1" r="1.2" fill="#4BFB28"/>
<circle cx="129.6" cy="449.5" r="1.2" fill="#4BFB28"/>
<circle cx="129.6" cy="450.0" r="1.2" fill="#4BFB28"/>
<circle cx="130.5" cy="450.0" r="1.2" fill="#4BFB28"/>
<circle cx="121.6" cy="450.7" r="1.2" fill="#4BFB28"/>
<circle cx="128.8" cy="450.4" r="1.2" fill="#4BFB28"/>
<circle cx="124.4" cy="450.8" r="1.2" fill="#4BFB28"/>
<circle cx="129.8" cy="450.4" r="1.2" fill="#4BFB28"/>
<circle cx="126.1" cy="451.4" r="1.2" fill="#4BFB28"/>
<circle cx="132.5" cy="452.1" r="1.2" fill="#4BFB28"/>
<circle cx="120.6" cy="452.1" r="1.2" fill="#4BFB28"/>
<circle cx="128.0" cy="451.9" r="1.2" fill="#4BFB28"/>
<circle cx="126.6" cy="453.2" r="1.2" fill="#4BFB28"/>
<circle cx="132.3" cy="452.8" r="1.2" fill="#4BFB28"/>
<circle cx="129.2" cy="453.3" r="1.2" fill="#4BFB28"/>
<circle cx="128.9" cy="453.2" r="1.2" fill="#4BFB28"/>
<circle cx="133.5" cy="453.4" r="1.2" fill="#4BFB28"/>
<circle cx="121.0" cy="452.8" r="1.2" fill="#4BFB28"/>
<circle cx="131.5" cy="454.4" r="1.2" fill="#4BFB28"/>
<circle cx="126.6" cy="454.0" r="1.2" fill="#4BFB28"/>
<circle cx="125.4" cy="454.3" r="1.2" fill="#4BFB28"/>
<circle cx="130.9" cy="454.7" r="1.2" fill="#4BFB28"/>
<circle cx="128.4" cy="454.4" r="1.2" fill="#4BFB28"/>
<circle cx="132.6" cy="454.4" r="1.2" fill="#4BFB28"/>
<circle cx="129.8" cy="455.1" r="1.2" fill="#4BFB28"/>
<circle cx="133.4" cy="454.9" r="1.2" fill="#4BFB28"/>
<circle cx="123.4" cy="455.2" r="1.2" fill="#4BFB28"/>
<circle cx="122.0" cy="455.5" r="1.2" fill="#4BFB28"/>
<circle cx="131.4" cy="456.1" r="1.2" fill="#4BFB28"/>
<circle cx="130.2" cy="456.8" r="1.2" fill="#4BFB28"/>
<circle cx="132.7" cy="456.1" r="1.2" fill="#4BFB28"/>
<circle cx="133.2" cy="456.9" r="1.2" fill="#4BFB28"/>
<circle cx="123.6" cy="456.1" r="1.2" fill="#4BFB28"/>
<circle cx="122.0" cy="456.8" r="1.2" fill="#4BFB28"/>
<circle cx="130.9" cy="457.8" r="1.2" fill="#4BFB28"/>
<circle cx="123.5" cy="457.4" r="1.2" fill="#4BFB28"/>
<circle cx="127.1" cy="457.2" r="1.2" fill="#4BFB28"/>
<circle cx="126.2" cy="457.9" r="1.2" fill="#4BFB28"/>
<circle cx="127.7" cy="458.1" r="1.2" fill="#4BFB28"/>
<circle cx="129.6" cy="458.9" r="1.2" fill="#4BFB28"/>
<circle cx="122.1" cy="458.7" r="1.2" fill="#4BFB28"/>
<circle cx="132.7" cy="459.0" r="1.2" fill="#4BFB28"/>
<circle cx="130.0" cy="459.2" r="1.2" fill="#4BFB28"/>
<circle cx="123.5" cy="458.5" r="1.2" fill="#4BFB28"/>
<circle cx="121.0" cy="459.1" r="1.2" fill="#4BFB28"/>
<circle cx="129.7" cy="460.2" r="1.2" fill="#4BFB28"/>
<circle cx="125.4" cy="459.8" r="1.2" fill="#4BFB28"/>
<circle cx="133.5" cy="460.4" r="1.2" fill="#4BFB28"/>
<circle cx="126.9" cy="460.1" r="1.2" fill="#4BFB28"/>
<circle cx="133.3" cy="461.4" r="1.2" fill="#4BFB28"/>
<circle cx="131.5" cy="461.0" r="1.2" fill="#4BFB28"/>
<circle cx="128.6" cy="460.7" r="1.2" fill="#4BFB28"/>
<circle cx="125.9" cy="461.5" r="1.2" fill="#4BFB28"/>
<circle cx="130.0" cy="461.5" r="1.2" fill="#4BFB28"/>
<circle cx="126.3" cy="461.1" r="1.2" fill="#4BFB28"/>
<circle cx="133.1" cy="462.4" r="1.2" fill="#4BFB28"/>
<circle cx="128.2" cy="461.9" r="1.2" fill="#4BFB28"/>
<circle cx="134.1" cy="462.5" r="1.2" fill="#4BFB28"/>
<circle cx="125.4" cy="462.5" r="1.2" fill="#4BFB28"/>
<circle cx="131.1" cy="462.2" r="1.2" fill="#4BFB28"/>
<circle cx="134.5" cy="461.9" r="1.2" fill="#4BFB28"/>
<circle cx="127.5" cy="462.6" r="1.2" fill="#4BFB28"/>
<circle cx="125.3" cy="463.1" r="1.2" fill="#4BFB28"/>
<circle cx="128.0" cy="463.1" r="1.2" fill="#4BFB28"/>
<circle cx="128.0" cy="463.9" r="1.2" fill="#4BFB28"/>
<circle cx="128.8" cy="463.7" r="1.2" fill="#4BFB28"/>
<circle cx="133.1" cy="463.1" r="1.2" fill="#4BFB28"/>
<circle cx="126.3" cy="464.1" r="1.2" fill="#4BFB28"/>
<circle cx="129.2" cy="464.7" r="1.2" fill="#4BFB28"/>
<circle cx="130.5" cy="464.5" r="1.2" fill="#4BFB28"/>
<circle cx="125.2" cy="464.5" r="1.2" fill="#4BFB28"/>
<circle cx="133.4" cy="464.5" r="1.2" fill="#4BFB28"/>
<circle cx="131.5" cy="464.5" r="1.2" fill="#4BFB28"/>
<circle cx="126.9" cy="466.1" r="1.2" fill="#4BFB28"/>
<circle cx="134.0" cy="466.1" r="1.2" fill="#4BFB28"/>
<circle cx="132.9" cy="465.7" r="1.2" fill="#4BFB28"/>
<circle cx="128.2" cy="465.3" r="1.2" fill="#4BFB28"/>
<circle cx="129.7" cy="465.9" r="1.2" fill="#4BFB28"/>
<circle cx="132.3" cy="465.6" r="1.2" fill="#4BFB28"/>
<circle cx="130.1" cy="465.6" r="1.2" fill="#4BFB28"/>
<circle cx="133.1" cy="466.5" r="1.2" fill="#4BFB28"/>
<circle cx="132.8" cy="466.7" r="1.2" fill="#4BFB28"/>
<circle cx="130.8" cy="466.4" r="1.2" fill="#4BFB28"/>
<circle cx="131.5" cy="467.1" r="1.2" fill="#4BFB28"/>
<circle cx="136.1" cy="466.5" r="1.2" fill="#4BFB28"/>
<circle cx="131.9" cy="467.1" r="1.2" fill="#4BFB28"/>
<circle cx="131.1" cy="467.2" r="1.2" fill="#4BFB28"/>
<circle cx="131.4" cy="468.4" r="1.2" fill="#4BFB28"/>
<circle cx="126.9" cy="467.9" r="1.2" fill="#4BFB28"/>
<circle cx="134.3" cy="468.5" r="1.2" fill="#4BFB28"/>
<circle cx="127.9" cy="467.5" r="1.2" fill="#4BFB28"/>
<circle cx="130.0" cy="468.2" r="1.2" fill="#4BFB28"/>
<circle cx="129.1" cy="467.7" r="1.2" fill="#4BFB28"/>
<circle cx="134.3" cy="469.2" r="1.2" fill="#4BFB28"/>
<circle cx="127.2" cy="469.0" r="1.2" fill="#4BFB28"/>
<circle cx="127.1" cy="469.4" r="1.2" fill="#4BFB28"/>
<circle cx="135.1" cy="469.1" r="1.2" fill="#4BFB28"/>
<circle cx="132.1" cy="469.6" r="1.2" fill="#4BFB28"/>
<circle cx="129.3" cy="469.5" r="1.2" fill="#4BFB28"/>
<circle cx="135.1" cy="468.9" r="1.2" fill="#4BFB28"/>
<circle cx="132.1" cy="470.6" r="1.2" fill="#4BFB28"/>
<circle cx="129.5" cy="470.1" r="1.2" fill="#4BFB28"/>
<circle cx="129.8" cy="470.2" r="1.2" fill="#4BFB28"/>
<circle cx="134.3" cy="470.0" r="1.2" fill="#4BFB28"/>
<circle cx="128.7" cy="470.2" r="1.2" fill="#4BFB28"/>
<circle cx="133.2" cy="470.2" r="1.2" fill="#4BFB28"/>
<circle cx="136.6" cy="469.9" r="1.2" fill="#4BFB28"/>
<circle cx="135.7" cy="471.7" r="1.2" fill="#4BFB28"/>
<circle cx="126.1" cy="471.6" r="1.2" fill="#4BFB28"/>
<circle cx="137.1" cy="471.2" r="1.2" fill="#4BFB28"/>
<circle cx="125.3" cy="471.2" r="1.2" fill="#4BFB28"/>
<circle cx="135.1" cy="471.1" r="1.2" fill="#4BFB28"/>
<circle cx="136.6" cy="471.1" r="1.2" fill="#4BFB28"/>
<circle cx="136.4" cy="471.7" r="1.2" fill="#4BFB28"/>
<circle cx="134.0" cy="472.9" r="1.2" fill="#4BFB28"/>
<circle cx="136.0" cy="472.8" r="1.2" fill="#4BFB28"/>
<circle cx="132.3" cy="472.5" r="1.2" fill="#4BFB28"/>
<circle cx="136.5" cy="472.4" r="1.2" fill="#4BFB28"/>
<circle cx="128.0" cy="472.6" r="1.2" fill="#4BFB28"/>
<circle cx="124.5" cy="472.2" r="1.2" fill="#4BFB28"/>
<circle cx="131.8" cy="472.6" r="1.2" fill="#4BFB28"/>
<circle cx="136.3" cy="473.8" r="1.2" fill="#4BFB28"/>
<circle cx="134.2" cy="473.6" r="1.2" fill="#4BFB28"/>
<circle cx="131.0" cy="473.3" r="1.2" fill="#4BFB28"/>
<circle cx="133.9" cy="473.3" r="1.2" fill="#4BFB28"/>
<circle cx="133.5" cy="474.2" r="1.2" fill="#4BFB28"/>
<circle cx="129.7" cy="473.8" r="1.2" fill="#4BFB28"/>
<circle cx="131.9" cy="473.3" r="1.2" fill="#4BFB28"/>
<circle cx="134.8" cy="473.6" r="1.2" fill="#4BFB28"/>
<circle cx="136.5" cy="473.7" r="1.2" fill="#4BFB28"/>
<circle cx="132.6" cy="474.6" r="1.2" fill="#4BFB28"/>
<circle cx="131.4" cy="475.0" r="1.2" fill="#4BFB28"/>
<circle cx="136.3" cy="475.2" r="1.2" fill="#4BFB28"/>
<circle cx="131.0" cy="474.7" r="1.2" fill="#4BFB28"/>
<circle cx="132.4" cy="475.1" r="1.2" fill="#4BFB28"/>
<circle cx="135.9" cy="474.7" r="1.2" fill="#4BFB28"/>
<circle cx="129.4" cy="475.0" r="1.2" fill="#4BFB28"/>
<circle cx="135.1" cy="474.9" r="1.2" fill="#4BFB28"/>
<circle cx="124.8" cy="475.6" r="1.2" fill="#4BFB28"/>
<circle cx="127.8" cy="476.2" r="1.2" fill="#4BFB28"/>
<circle cx="134.5" cy="476.5" r="1.2" fill="#4BFB28"/>
<circle cx="134.0" cy="476.2" r="1.2" fill="#4BFB28"/>
<circle cx="135.0" cy="476.2" r="1.2" fill="#4BFB28"/>
<circle cx="128.2" cy="476.0" r="1.2" fill="#4BFB28"/>
<circle cx="135.9" cy="476.2" r="1.2" fill="#4BFB28"/>
<circle cx="130.9" cy="477.5" r="1.2" fill="#4BFB28"/>
<circle cx="133.5" cy="477.0" r="1.2" fill="#4BFB28"/>
<circle cx="131.6" cy="477.1" r="1.2" fill="#4BFB28"/>
<circle cx="134.5" cy="476.8" r="1.2" fill="#4BFB28"/>
<circle cx="126.6" cy="477.3" r="1.2" fill="#4BFB28"/>
<circle cx="137.8" cy="476.7" r="1.2" fill="#4BFB28"/>
<circle cx="131.1" cy="477.6" r="1.2" fill="#4BFB28"/>
<circle cx="138.5" cy="477.1" r="1.2" fill="#4BFB28"/>
<circle cx="126.4" cy="478.1" r="1.2" fill="#4BFB28"/>
<circle cx="123.6" cy="478.0" r="1.2" fill="#4BFB28"/>
<circle cx="137.5" cy="477.9" r="1.2" fill="#4BFB28"/>
<circle cx="135.7" cy="478.6" r="1.2" fill="#4BFB28"/>
<circle cx="136.4" cy="478.7" r="1.2" fill="#4BFB28"/>
<circle cx="134.8" cy="479.5" r="1.2" fill="#4BFB28"/>
<circle cx="138.4" cy="480.0" r="1.2" fill="#4BFB28"/>
<circle cx="124.2" cy="479.8" r="1.2" fill="#4BFB28"/>
<circle cx="126.1" cy="479.7" r="1.2" fill="#4BFB28"/>
<circle cx="127.9" cy="479.5" r="1.2" fill="#4BFB28"/>
<circle cx="125.6" cy="479.6" r="1.2" fill="#4BFB28"/>
<circle cx="132.3" cy="479.1" r="1.2" fill="#4BFB28"/>
<circle cx="136.9" cy="479.6" r="1.2" fill="#4BFB28"/>
<circle cx="135.1" cy="480.5" r="1.2" fill="#4BFB28"/>
<circle cx="137.0" cy="480.9" r="1.2" fill="#4BFB28"/>
<circle cx="134.3" cy="480.2" r="1.2" fill="#4BFB28"/>
<circle cx="139.2" cy="481.0" r="1.2" fill="#4BFB28"/>
<circle cx="130.9" cy="481.1" r="1.2" fill="#4BFB28"/>
<circle cx="137.5" cy="480.5" r="1.2" fill="#4BFB28"/>
<circle cx="132.4" cy="480.5" r="1.2" fill="#4BFB28"/>
<circle cx="135.8" cy="481.0" r="1.2" fill="#4BFB28"/>
<circle cx="137.3" cy="480.2" r="1.2" fill="#4BFB28"/>
<circle cx="130.0" cy="481.9" r="1.2" fill="#4BFB28"/>
<circle cx="137.6" cy="481.3" r="1.2" fill="#4BFB28"/>
<circle cx="137.8" cy="482.2" r="1.2" fill="#4BFB28"/>
<circle cx="134.6" cy="482.2" r="1.2" fill="#4BFB28"/>
<circle cx="137.5" cy="482.2" r="1.2" fill="#4BFB28"/>
<circle cx="134.3" cy="481.5" r="1.2" fill="#4BFB28"/>
<circle cx="136.8" cy="481.5" r="1.2" fill="#4BFB28"/>
<circle cx="135.0" cy="481.8" r="1.2" fill="#4BFB28"/>
<circle cx="129.3" cy="483.2" r="1.2" fill="#4BFB28"/>
<circle cx="137.6" cy="482.5" r="1.2" fill="#4BFB28"/>
<circle cx="137.8" cy="482.7" r="1.2" fill="#4BFB28"/>
<circle cx="134.9" cy="483.3" r="1.2" fill="#4BFB28"/>
<circle cx="134.1" cy="483.0" r="1.2" fill="#4BFB28"/>
<circle cx="129.0" cy="482.6" r="1.2" fill="#4BFB28"/>
<circle cx="136.5" cy="483.0" r="1.2" fill="#4BFB28"/>
<circle cx="132.4" cy="482.6" r="1.2" fill="#4BFB28"/>
<circle cx="125.8" cy="482.8" r="1.2" fill="#4BFB28"/>
<circle cx="127.5" cy="484.4" r="1.2" fill="#4BFB28"/>
<circle cx="128.5" cy="483.9" r="1.2" fill="#4BFB28"/>
<circle cx="125.6" cy="484.5" r="1.2" fill="#4BFB28"/>
<circle cx="133.9" cy="483.9" r="1.2" fill="#4BFB28"/>
<circle cx="137.7" cy="484.5" r="1.2" fill="#4BFB28"/>
<circle cx="137.5" cy="484.6" r="1.2" fill="#4BFB28"/>
<circle cx="129.4" cy="483.7" r="1.2" fill="#4BFB28"/>
<circle cx="126.3" cy="485.6" r="1.2" fill="#4BFB28"/>
<circle cx="133.7" cy="485.7" r="1.2" fill="#4BFB28"/>
<circle cx="126.7" cy="485.1" r="1.2" fill="#4BFB28"/>
<circle cx="128.0" cy="485.0" r="1.2" fill="#4BFB28"/>
<circle cx="135.2" cy="485.7" r="1.2" fill="#4BFB28"/>
<circle cx="136.6" cy="485.2" r="1.2" fill="#4BFB28"/>
<circle cx="128.8" cy="485.7" r="1.2" fill="#4BFB28"/>
<circle cx="130.6" cy="485.7" r="1.2" fill="#4BFB28"/>
<circle cx="139.8" cy="485.9" r="1.2" fill="#4BFB28"/>
<circle cx="138.4" cy="486.5" r="1.2" fill="#4BFB28"/>
<circle cx="128.7" cy="486.8" r="1.2" fill="#4BFB28"/>
<circle cx="137.0" cy="486.5" r="1.2" fill="#4BFB28"/>
<circle cx="131.9" cy="486.0" r="1.2" fill="#4BFB28"/>
<circle cx="134.3" cy="486.1" r="1.2" fill="#4BFB28"/>
<circle cx="128.7" cy="485.9" r="1.2" fill="#4BFB28"/>
<circle cx="137.8" cy="487.1" r="1.2" fill="#4BFB28"/>
<circle cx="140.4" cy="488.0" r="1.2" fill="#4BFB28"/>
<circle cx="139.7" cy="487.2" r="1.2" fill="#4BFB28"/>
<circle cx="140.4" cy="487.7" r="1.2" fill="#4BFB28"/>
<circle cx="134.2" cy="487.9" r="1.2" fill="#4BFB28"/>
<circle cx="134.5" cy="487.2" r="1.2" fill="#4BFB28"/>
<circle cx="137.8" cy="487.2" r="1.2" fill="#4BFB28"/>
<circle cx="140.1" cy="488.6" r="1.2" fill="#4BFB28"/>
<circle cx="129.4" cy="489.0" r="1.2" fill="#4BFB28"/>
<circle cx="132.6" cy="488.7" r="1.2" fill="#4BFB28"/>
<circle cx="132.3" cy="488.3" r="1.2" fill="#4BFB28"/>
<circle cx="140.4" cy="488.4" r="1.2" fill="#4BFB28"/>
<circle cx="134.8" cy="488.5" r="1.2" fill="#4BFB28"/>
<circle cx="130.3" cy="489.2" r="1.2" fill="#4BFB28"/>
<circle cx="141.6" cy="488.3" r="1.2" fill="#4BFB28"/>
<circle cx="132.1" cy="489.4" r="1.2" fill="#4BFB28"/>
<circle cx="138.6" cy="490.3" r="1.2" fill="#4BFB28"/>
<circle cx="125.9" cy="489.7" r="1.2" fill="#4BFB28"/>
<circle cx="139.9" cy="489.5" r="1.2" fill="#4BFB28"/>
<circle cx="134.5" cy="489.6" r="1.2" fill="#4BFB28"/>
<circle cx="136.5" cy="489.5" r="1.2" fill="#4BFB28"/>
<circle cx="139.1" cy="489.5" r="1.2" fill="#4BFB28"/>
<circle cx="137.3" cy="490.8" r="1.2" fill="#4BFB28"/>
<circle cx="130.9" cy="491.2" r="1.2" fill="#4BFB28"/>
<circle cx="140.0" cy="490.7" r="1.2" fill="#4BFB28"/>
<circle cx="127.8" cy="490.9" r="1.2" fill="#4BFB28"/>
<circle cx="140.0" cy="491.3" r="1.2" fill="#4BFB28"/>
<circle cx="140.6" cy="490.5" r="1.2" fill="#4BFB28"/>
<circle cx="141.2" cy="491.4" r="1.2" fill="#4BFB28"/>
<circle cx="132.0" cy="491.3" r="1.2" fill="#4BFB28"/>
<circle cx="134.0" cy="492.0" r="1.2" fill="#4BFB28"/>
<circle cx="136.4" cy="492.2" r="1.2" fill="#4BFB28"/>
<circle cx="129.4" cy="492.5" r="1.2" fill="#4BFB28"/>
<circle cx="141.0" cy="492.4" r="1.2" fill="#4BFB28"/>
<circle cx="134.3" cy="491.7" r="1.2" fill="#4BFB28"/>
<circle cx="141.1" cy="492.1" r="1.2" fill="#4BFB28"/>
<circle cx="136.3" cy="492.2" r="1.2" fill="#4BFB28"/>
<circle cx="126.7" cy="491.9" r="1.2" fill="#4BFB28"/>
<circle cx="132.3" cy="492.8" r="1.2" fill="#4BFB28"/>
<circle cx="129.2" cy="493.0" r="1.2" fill="#4BFB28"/>
<circle cx="126.8" cy="493.4" r="1.2" fill="#4BFB28"/>
<circle cx="136.7" cy="492.9" r="1.2" fill="#4BFB28"/>
<circle cx="141.4" cy="492.8" r="1.2" fill="#4BFB28"/>
<circle cx="129.8" cy="493.3" r="1.2" fill="#4BFB28"/>
<circle cx="132.9" cy="493.2" r="1.2" fill="#4BFB28"/>
<circle cx="130.1" cy="493.7" r="1.2" fill="#4BFB28"/>
<circle cx="130.6" cy="494.7" r="1.2" fill="#4BFB28"/>
<circle cx="131.0" cy="494.9" r="1.2" fill="#4BFB28"/>
<circle cx="135.0" cy="494.8" r="1.2" fill="#4BFB28"/>
<circle cx="137.1" cy="494.9" r="1.2" fill="#4BFB28"/>
<circle cx="140.5" cy="494.2" r="1.2" fill="#4BFB28"/>
<circle cx="134.1" cy="494.9" r="1.2" fill="#4BFB28"/>
<circle cx="140.9" cy="494.8" r="1.2" fill="#4BFB28"/>
<circle cx="137.0" cy="494.9" r="1.2" fill="#4BFB28"/>
<circle cx="132.9" cy="495.7" r="1.2" fill="#4BFB28"/>
<circle cx="134.9" cy="495.2" r="1.2" fill="#4BFB28"/>
<circle cx="136.0" cy="495.1" r="1.2" fill="#4BFB28"/>
<circle cx="130.7" cy="495.9" r="1.2" fill="#4BFB28"/>
<circle cx="142.9" cy="495.9" r="1.2" fill="#4BFB28"/>
<circle cx="142.2" cy="495.1" r="1.2" fill="#4BFB28"/>
<circle cx="139.0" cy="495.8" r="1.2" fill="#4BFB28"/>
<circle cx="133.4" cy="496.0" r="1.2" fill="#4BFB28"/>
<circle cx="138.8" cy="495.6" r="1.2" fill="#4BFB28"/>
<circle cx="136.3" cy="496.5" r="1.2" fill="#4BFB28"/>
<circle cx="134.2" cy="496.4" r="1.2" fill="#4BFB28"/>
<circle cx="138.7" cy="496.8" r="1.2" fill="#4BFB28"/>
<circle cx="133.6" cy="496.8" r="1.2" fill="#4BFB28"/>
<circle cx="131.2" cy="496.4" r="1.2" fill="#4BFB28"/>
<circle cx="134.0" cy="496.5" r="1.2" fill="#4BFB28"/>
<circle cx="138.0" cy="496.9" r="1.2" fill="#4BFB28"/>
<circle cx="138.3" cy="496.5" r="1.2" fill="#4BFB28"/>
<circle cx="140.6" cy="497.9" r="1.2" fill="#4BFB28"/>
<circle cx="139.2" cy="497.7" r="1.2" fill="#4BFB28"/>
<circle cx="133.4" cy="497.9" r="1.2" fill="#4BFB28"/>
<circle cx="135.8" cy="497.4" r="1.2" fill="#4BFB28"/>
<circle cx="135.3" cy="497.6" r="1.2" fill="#4BFB28"/>
<circle cx="138.4" cy="497.7" r="1.2" fill="#4BFB28"/>
<circle cx="144.1" cy="498.2" r="1.2" fill="#4BFB28"/>
<circle cx="142.7" cy="497.5" r="1.2" fill="#4BFB28"/>
<circle cx="136.2" cy="499.3" r="1.2" fill="#4BFB28"/>
<circle cx="130.9" cy="499.5" r="1.2" fill="#4BFB28"/>
<circle cx="141.2" cy="498.9" r="1.2" fill="#4BFB28"/>
<circle cx="135.6" cy="499.2" r="1.2" fill="#4BFB28"/>
<circle cx="142.7" cy="499.1" r="1.2" fill="#4BFB28"/>
<circle cx="141.2" cy="499.3" r="1.2" fill="#4BFB28"/>
<circle cx="137.5" cy="499.3" r="1.2" fill="#4BFB28"/>
<circle cx="143.5" cy="499.4" r="1.2" fill="#4BFB28"/>
<circle cx="127.6" cy="499.1" r="1.2" fill="#4BFB28"/>
<circle cx="137.9" cy="499.1" r="1.2" fill="#4BFB28"/>
<circle cx="136.9" cy="500.6" r="1.2" fill="#4BFB28"/>
<circle cx="139.7" cy="500.2" r="1.2" fill="#4BFB28"/>
<circle cx="137.6" cy="500.0" r="1.2" fill="#4BFB28"/>
<circle cx="136.5" cy="500.1" r="1.2" fill="#4BFB28"/>
<circle cx="135.4" cy="500.5" r="1.2" fill="#4BFB28"/>
<circle cx="138.2" cy="499.9" r="1.2" fill="#4BFB28"/>
<circle cx="135.1" cy="500.3" r="1.2" fill="#4BFB28"/>
<circle cx="143.9" cy="500.5" r="1.2" fill="#4BFB28"/>
<circle cx="142.8" cy="499.9" r="1.2" fill="#4BFB28"/>
<circle cx="137.1" cy="499.7" r="1.2" fill="#4BFB28"/>
<circle cx="129.9" cy="501.3" r="1.2" fill="#4BFB28"/>
<circle cx="144.2" cy="501.4" r="1.2" fill="#4BFB28"/>
<circle cx="145.1" cy="501.4" r="1.2" fill="#4BFB28"/>
<circle cx="141.1" cy="501.2" r="1.2" fill="#4BFB28"/>
<circle cx="139.9" cy="501.8" r="1.2" fill="#4BFB28"/>
<circle cx="141.0" cy="500.9" r="1.2" fill="#4BFB28"/>
<circle cx="136.5" cy="501.4" r="1.2" fill="#4BFB28"/>
<circle cx="139.6" cy="501.8" r="1.2" fill="#4BFB28"/>
<circle cx="138.3" cy="501.5" r="1.2" fill="#4BFB28"/>
<circle cx="145.1" cy="501.4" r="1.2" fill="#4BFB28"/>
<circle cx="142.8" cy="501.2" r="1.2" fill="#4BFB28"/>
<circle cx="145.2" cy="502.5" r="1.2" fill="#4BFB28"/>
<circle cx="131.9" cy="502.7" r="1.2" fill="#4BFB28"/>
<circle cx="143.2" cy="502.9" r="1.2" fill="#4BFB28"/>
<circle cx="137.6" cy="502.3" r="1.2" fill="#4BFB28"/>
<circle cx="139.0" cy="502.2" r="1.2" fill="#4BFB28"/>
<circle cx="133.4" cy="502.6" r="1.2" fill="#4BFB28"/>
<circle cx="136.5" cy="502.6" r="1.2" fill="#4BFB28"/>
<circle cx="130.1" cy="502.8" r="1.2" fill="#4BFB28"/>
<circle cx="135.7" cy="502.0" r="1.2" fill="#4BFB28"/>
<circle cx="135.7" cy="502.6" r="1.2" fill="#4BFB28"/>
<circle cx="141.2" cy="502.5" r="1.2" fill="#4BFB28"/>
<circle cx="139.9" cy="503.8" r="1.2" fill="#4BFB28"/>
<circle cx="139.6" cy="503.7" r="1.2" fill="#4BFB28"/>
<circle cx="137.7" cy="503.3" r="1.2" fill="#4BFB28"/>
<circle cx="131.9" cy="503.7" r="1.2" fill="#4BFB28"/>
<circle cx="143.5" cy="504.0" r="1.2" fill="#4BFB28"/>
<circle cx="142.8" cy="503.9" r="1.2" fill="#4BFB28"/>
<circle cx="136.8" cy="503.4" r="1.2" fill="#4BFB28"/>
<circle cx="131.9" cy="503.7" r="1.2" fill="#4BFB28"/>
<circle cx="136.7" cy="503.5" r="1.2" fill="#4BFB28"/>
<circle cx="131.0" cy="504.9" r="1.2" fill="#4BFB28"/>
<circle cx="145.5" cy="504.9" r="1.2" fill="#4BFB28"/>
<circle cx="145.2" cy="504.6" r="1.2" fill="#4BFB28"/>
<circle cx="144.8" cy="504.6" r="1.2" fill="#4BFB28"/>
<circle cx="140.9" cy="504.8" r="1.2" fill="#4BFB28"/>
<circle cx="145.4" cy="504.7" r="1.2" fill="#4BFB28"/>
<circle cx="142.5" cy="504.6" r="1.2" fill="#4BFB28"/>
<circle cx="144.5" cy="505.1" r="1.2" fill="#4BFB28"/>
<circle cx="135.2" cy="504.7" r="1.2" fill="#4BFB28"/>
<circle cx="134.1" cy="504.6" r="1.2" fill="#4BFB28"/>
<circle cx="140.2" cy="505.9" r="1.2" fill="#4BFB28"/>
<circle cx="131.7" cy="506.3" r="1.2" fill="#4BFB28"/>
<circle cx="137.4" cy="505.6" r="1.2" fill="#4BFB28"/>
<circle cx="136.2" cy="505.5" r="1.2" fill="#4BFB28"/>
<circle cx="142.1" cy="505.6" r="1.2" fill="#4BFB28"/>
<circle cx="136.0" cy="505.6" r="1.2" fill="#4BFB28"/>
<circle cx="138.9" cy="506.3" r="1.2" fill="#4BFB28"/>
<circle cx="133.9" cy="506.2" r="1.2" fill="#4BFB28"/>
<circle cx="137.8" cy="505.7" r="1.2" fill="#4BFB28"/>
<circle cx="146.2" cy="506.8" r="1.2" fill="#4BFB28"/>
<circle cx="139.4" cy="507.3" r="1.2" fill="#4BFB28"/>
<circle cx="136.2" cy="507.2" r="1.2" fill="#4BFB28"/>
<circle cx="138.0" cy="507.2" r="1.2" fill="#4BFB28"/>
<circle cx="135.3" cy="506.7" r="1.2" fill="#4BFB28"/>
<circle cx="140.3" cy="506.9" r="1.2" fill="#4BFB28"/>
<circle cx="143.9" cy="507.3" r="1.2" fill="#4BFB28"/>
<circle cx="141.1" cy="507.0" r="1.2" fill="#4BFB28"/>
<circle cx="132.5" cy="507.5" r="1.2" fill="#4BFB28"/>
<circle cx="137.2" cy="506.7" r="1.2" fill="#4BFB28"/>
<circle cx="141.0" cy="507.1" r="1.2" fill="#4BFB28"/>
<circle cx="137.4" cy="507.9" r="1.2" fill="#4BFB28"/>
<circle cx="143.5" cy="508.2" r="1.2" fill="#4BFB28"/>
<circle cx="146.0" cy="508.6" r="1.2" fill="#4BFB28"/>
<circle cx="145.4" cy="508.0" r="1.2" fill="#4BFB28"/>
<circle cx="131.2" cy="508.4" r="1.2" fill="#4BFB28"/>
<circle cx="138.1" cy="508.4" r="1.2" fill="#4BFB28"/>
<circle cx="143.3" cy="508.6" r="1.2" fill="#4BFB28"/>
<circle cx="138.1" cy="507.9" r="1.2" fill="#4BFB28"/>
<circle cx="133.6" cy="508.5" r="1.2" fill="#4BFB28"/>
<circle cx="131.9" cy="509.1" r="1.2" fill="#4BFB28"/>
<circle cx="137.6" cy="508.9" r="1.2" fill="#4BFB28"/>
<circle cx="137.8" cy="509.1" r="1.2" fill="#4BFB28"/>
<circle cx="145.5" cy="509.6" r="1.2" fill="#4BFB28"/>
<circle cx="136.8" cy="509.6" r="1.2" fill="#4BFB28"/>
<circle cx="145.5" cy="509.2" r="1.2" fill="#4BFB28"/>
<circle cx="132.0" cy="509.5" r="1.2" fill="#4BFB28"/>
<circle cx="132.1" cy="509.0" r="1.2" fill="#4BFB28"/>
<circle cx="144.9" cy="509.8" r="1.2" fill="#4BFB28"/>
<circle cx="144.0" cy="510.8" r="1.2" fill="#4BFB28"/>
<circle cx="145.8" cy="510.1" r="1.2" fill="#4BFB28"/>
<circle cx="147.3" cy="511.0" r="1.2" fill="#4BFB28"/>
<circle cx="143.9" cy="510.9" r="1.2" fill="#4BFB28"/>
<circle cx="143.1" cy="510.1" r="1.2" fill="#4BFB28"/>
<circle cx="144.0" cy="510.6" r="1.2" fill="#4BFB28"/>
<circle cx="147.1" cy="510.8" r="1.2" fill="#4BFB28"/>
<circle cx="132.3" cy="510.9" r="1.2" fill="#4BFB28"/>
<circle cx="137.2" cy="511.0" r="1.2" fill="#4BFB28"/>
<circle cx="143.2" cy="510.3" r="1.2" fill="#4BFB28"/>
<circle cx="132.8" cy="510.5" r="1.2" fill="#4BFB28"/>
<circle cx="136.4" cy="511.3" r="1.2" fill="#4BFB28"/>
<circle cx="144.5" cy="511.4" r="1.2" fill="#4BFB28"/>
<circle cx="137.2" cy="511.6" r="1.2" fill="#4BFB28"/>
<circle cx="147.6" cy="511.5" r="1.2" fill="#4BFB28"/>
<circle cx="146.9" cy="511.8" r="1.2" fill="#4BFB28"/>
<circle cx="138.9" cy="511.7" r="1.2" fill="#4BFB28"/>
<circle cx="145.3" cy="511.9" r="1.2" fill="#4BFB28"/>
<circle cx="143.0" cy="512.0" r="1.2" fill="#4BFB28"/>
<circle cx="138.1" cy="511.4" r="1.2" fill="#4BFB28"/>
<circle cx="133.1" cy="511.4" r="1.2" fill="#4BFB28"/>
<circle cx="144.8" cy="512.5" r="1.2" fill="#4BFB28"/>
<circle cx="139.1" cy="512.7" r="1.2" fill="#4BFB28"/>
<circle cx="131.7" cy="513.1" r="1.2" fill="#4BFB28"/>
<circle cx="134.1" cy="513.3" r="1.2" fill="#4BFB28"/>
<circle cx="141.7" cy="512.5" r="1.2" fill="#4BFB28"/>
<circle cx="147.7" cy="513.0" r="1.2" fill="#4BFB28"/>
<circle cx="147.9" cy="512.6" r="1.2" fill="#4BFB28"/>
<circle cx="137.6" cy="512.4" r="1.2" fill="#4BFB28"/>
<circle cx="146.2" cy="513.8" r="1.2" fill="#4BFB28"/>
<circle cx="136.8" cy="514.3" r="1.2" fill="#4BFB28"/>
<circle cx="148.2" cy="514.3" r="1.2" fill="#4BFB28"/>
<circle cx="147.0" cy="513.8" r="1.2" fill="#4BFB28"/>
<circle cx="136.8" cy="513.8" r="1.2" fill="#4BFB28"/>
<circle cx="140.2" cy="513.9" r="1.2" fill="#4BFB28"/>
<circle cx="147.0" cy="513.5" r="1.2" fill="#4BFB28"/>
<circle cx="143.3" cy="514.3" r="1.2" fill="#4BFB28"/>
<circle cx="145.3" cy="514.4" r="1.2" fill="#4BFB28"/>
<circle cx="142.2" cy="513.7" r="1.2" fill="#4BFB28"/>
<circle cx="139.0" cy="513.6" r="1.2" fill="#4BFB28"/>
<circle cx="145.4" cy="515.1" r="1.2" fill="#4BFB28"/>
<circle cx="133.5" cy="514.8" r="1.2" fill="#4BFB28"/>
<circle cx="147.5" cy="515.4" r="1.2" fill="#4BFB28"/>
<circle cx="141.5" cy="515.3" r="1.2" fill="#4BFB28"/>
<circle cx="142.9" cy="515.0" r="1.2" fill="#4BFB28"/>
<circle cx="141.7" cy="515.5" r="1.2" fill="#4BFB28"/>
<circle cx="148.3" cy="514.9" r="1.2" fill="#4BFB28"/>
<circle cx="141.8" cy="515.0" r="1.2" fill="#4BFB28"/>
<circle cx="140.1" cy="516.8" r="1.2" fill="#4BFB28"/>
<circle cx="148.8" cy="516.8" r="1.2" fill="#4BFB28"/>
<circle cx="149.4" cy="516.6" r="1.2" fill="#4BFB28"/>
<circle cx="134.5" cy="516.4" r="1.2" fill="#4BFB28"/>
<circle cx="139.6" cy="516.8" r="1.2" fill="#4BFB28"/>
<circle cx="142.7" cy="516.1" r="1.2" fill="#4BFB28"/>
<circle cx="140.5" cy="515.8" r="1.2" fill="#4BFB28"/>
<circle cx="137.6" cy="516.2" r="1.2" fill="#4BFB28"/>
<circle cx="135.2" cy="516.2" r="1.2" fill="#4BFB28"/>
<circle cx="144.2" cy="516.3" r="1.2" fill="#4BFB28"/>
<circle cx="144.0" cy="515.9" r="1.2" fill="#4BFB28"/>
<circle cx="137.7" cy="517.5" r="1.2" fill="#4BFB28"/>
<circle cx="136.2" cy="517.2" r="1.2" fill="#4BFB28"/>
<circle cx="135.8" cy="517.2" r="1.2" fill="#4BFB28"/>
<circle cx="143.2" cy="517.2" r="1.2" fill="#4BFB28"/>
<circle cx="143.6" cy="517.0" r="1.2" fill="#4BFB28"/>
<circle cx="142.4" cy="517.5" r="1.2" fill="#4BFB28"/>
<circle cx="146.5" cy="517.1" r="1.2" fill="#4BFB28"/>
<circle cx="150.2" cy="517.1" r="1.2" fill="#4BFB28"/>
<circle cx="148.1" cy="517.1" r="1.2" fill="#4BFB28"/>
<circle cx="150.1" cy="518.9" r="1.2" fill="#4BFB28"/>
<circle cx="137.1" cy="518.2" r="1.2" fill="#4BFB28"/>
<circle cx="139.2" cy="518.1" r="1.2" fill="#4BFB28"/>
<circle cx="145.1" cy="518.4" r="1.2" fill="#4BFB28"/>
<circle cx="146.8" cy="519.0" r="1.2" fill="#4BFB28"/>
<circle cx="145.5" cy="518.7" r="1.2" fill="#4BFB28"/>
<circle cx="149.6" cy="518.3" r="1.2" fill="#4BFB28"/>
<circle cx="147.3" cy="518.9" r="1.2" fill="#4BFB28"/>
<circle cx="146.4" cy="518.2" r="1.2" fill="#4BFB28"/>
<circle cx="141.7" cy="519.0" r="1.2" fill="#4BFB28"/>
<circle cx="144.8" cy="519.4" r="1.2" fill="#4BFB28"/>
<circle cx="150.1" cy="519.5" r="1.2" fill="#4BFB28"/>
<circle cx="138.7" cy="520.1" r="1.2" fill="#4BFB28"/>
<circle cx="148.4" cy="519.8" r="1.2" fill="#4BFB28"/>
<circle cx="140.6" cy="519.6" r="1.2" fill="#4BFB28"/>
<circle cx="137.6" cy="519.8" r="1.2" fill="#4BFB28"/>
<circle cx="146.9" cy="520.2" r="1.2" fill="#4BFB28"/>
<circle cx="133.9" cy="519.4" r="1.2" fill="#4BFB28"/>
<circle cx="144.5" cy="521.2" r="1.2" fill="#4BFB28"/>
<circle cx="135.0" cy="521.2" r="1.2" fill="#4BFB28"/>
<circle cx="147.1" cy="520.9" r="1.2" fill="#4BFB28"/>
<circle cx="138.3" cy="520.8" r="1.2" fill="#4BFB28"/>
<circle cx="149.7" cy="520.5" r="1.2" fill="#4BFB28"/>
<circle cx="141.6" cy="521.3" r="1.2" fill="#4BFB28"/>
<circle cx="138.5" cy="520.9" r="1.2" fill="#4BFB28"/>
<circle cx="145.6" cy="520.8" r="1.2" fill="#4BFB28"/>
<circle cx="133.8" cy="520.7" r="1.2" fill="#4BFB28"/>
<circle cx="134.5" cy="521.4" r="1.2" fill="#4BFB28"/>
<circle cx="135.7" cy="522.2" r="1.2" fill="#4BFB28"/>
<circle cx="140.9" cy="522.1" r="1.2" fill="#4BFB28"/>
<circle cx="140.7" cy="522.1" r="1.2" fill="#4BFB28"/>
<circle cx="151.2" cy="521.6" r="1.2" fill="#4BFB28"/>
<circle cx="145.7" cy="522.4" r="1.2" fill="#4BFB28"/>
<circle cx="148.8" cy="522.2" r="1.2" fill="#4BFB28"/>
<circle cx="142.5" cy="522.3" r="1.2" fill="#4BFB28"/>
<circle cx="150.1" cy="522.2" r="1.2" fill="#4BFB28"/>
<circle cx="141.5" cy="522.3" r="1.2" fill="#4BFB28"/>
<circle cx="144.9" cy="521.9" r="1.2" fill="#4BFB28"/>
<circle cx="145.6" cy="521.6" r="1.2" fill="#4BFB28"/>
<circle cx="142.4" cy="523.7" r="1.2" fill="#4BFB28"/>
<circle cx="144.8" cy="522.9" r="1.2" fill="#4BFB28"/>
<circle cx="140.6" cy="522.8" r="1.2" fill="#4BFB28"/>
<circle cx="134.6" cy="523.2" r="1.2" fill="#4BFB28"/>
<circle cx="144.3" cy="523.0" r="1.2" fill="#4BFB28"/>
<circle cx="141.8" cy="523.4" r="1.2" fill="#4BFB28"/>
<circle cx="145.9" cy="523.0" r="1.2" fill="#4BFB28"/>
<circle cx="151.1" cy="522.8" r="1.2" fill="#4BFB28"/>
<circle cx="139.4" cy="523.7" r="1.2" fill="#4BFB28"/>
<circle cx="142.8" cy="523.1" r="1.2" fill="#4BFB28"/>
<circle cx="145.2" cy="524.1" r="1.2" fill="#4BFB28"/>
<circle cx="139.4" cy="524.6" r="1.2" fill="#4BFB28"/>
<circle cx="140.6" cy="524.1" r="1.2" fill="#4BFB28"/>
<circle cx="147.1" cy="524.5" r="1.2" fill="#4BFB28"/>
<circle cx="140.1" cy="524.8" r="1.2" fill="#4BFB28"/>
<circle cx="150.0" cy="524.2" r="1.2" fill="#4BFB28"/>
<circle cx="138.8" cy="524.4" r="1.2" fill="#4BFB28"/>
<circle cx="150.9" cy="524.8" r="1.2" fill="#4BFB28"/>
<circle cx="140.8" cy="525.7" r="1.2" fill="#4BFB28"/>
<circle cx="148.1" cy="525.7" r="1.2" fill="#4BFB28"/>
<circle cx="147.8" cy="525.5" r="1.2" fill="#4BFB28"/>
<circle cx="147.3" cy="525.5" r="1.2" fill="#4BFB28"/>
<circle cx="135.5" cy="525.6" r="1.2" fill="#4BFB28"/>
<circle cx="147.6" cy="525.3" r="1.2" fill="#4BFB28"/>
<circle cx="138.1" cy="525.1" r="1.2" fill="#4BFB28"/>
<circle cx="150.8" cy="526.7" r="1.2" fill="#4BFB28"/>
<circle cx="147.6" cy="526.8" r="1.2" fill="#4BFB28"/>
<circle cx="147.8" cy="526.9" r="1.2" fill="#4BFB28"/>
<circle cx="142.1" cy="526.9" r="1.2" fill="#4BFB28"/>
<circle cx="150.3" cy="526.9" r="1.2" fill="#4BFB28"/>
<circle cx="152.9" cy="526.4" r="1.2" fill="#4BFB28"/>
<circle cx="146.6" cy="526.3" r="1.2" fill="#4BFB28"/>
<circle cx="135.7" cy="526.8" r="1.2" fill="#4BFB28"/>
<circle cx="150.2" cy="527.1" r="1.2" fill="#4BFB28"/>
<circle cx="141.5" cy="526.2" r="1.2" fill="#4BFB28"/>
<circle cx="136.5" cy="526.2" r="1.2" fill="#4BFB28"/>
<circle cx="146.6" cy="527.5" r="1.2" fill="#4BFB28"/>
<circle cx="152.9" cy="527.4" r="1.2" fill="#4BFB28"/>
<circle cx="140.8" cy="528.2" r="1.2" fill="#4BFB28"/>
<circle cx="150.7" cy="528.3" r="1.2" fill="#4BFB28"/>
<circle cx="146.6" cy="527.6" r="1.2" fill="#4BFB28"/>
<circle cx="151.0" cy="527.6" r="1.2" fill="#4BFB28"/>
<circle cx="148.8" cy="528.2" r="1.2" fill="#4BFB28"/>
<circle cx="137.9" cy="527.7" r="1.2" fill="#4BFB28"/>
<circle cx="153.0" cy="529.1" r="1.2" fill="#4BFB28"/>
<circle cx="142.1" cy="528.7" r="1.2" fill="#4BFB28"/>
<circle cx="145.9" cy="528.7" r="1.2" fill="#4BFB28"/>
<circle cx="150.8" cy="528.7" r="1.2" fill="#4BFB28"/>
<circle cx="154.0" cy="529.0" r="1.2" fill="#4BFB28"/>
<circle cx="140.7" cy="529.3" r="1.2" fill="#4BFB28"/>
<circle cx="143.0" cy="529.3" r="1.2" fill="#4BFB28"/>
<circle cx="143.3" cy="528.9" r="1.2" fill="#4BFB28"/>
<circle cx="152.6" cy="529.1" r="1.2" fill="#4BFB28"/>
<circle cx="148.5" cy="529.0" r="1.2" fill="#4BFB28"/>
<circle cx="152.5" cy="529.3" r="1.2" fill="#4BFB28"/>
<circle cx="145.0" cy="530.5" r="1.2" fill="#4BFB28"/>
<circle cx="141.6" cy="530.6" r="1.2" fill="#4BFB28"/>
<circle cx="140.0" cy="529.6" r="1.2" fill="#4BFB28"/>
<circle cx="153.3" cy="530.3" r="1.2" fill="#4BFB28"/>
<circle cx="139.6" cy="530.3" r="1.2" fill="#4BFB28"/>
<circle cx="139.4" cy="530.5" r="1.2" fill="#4BFB28"/>
<circle cx="150.6" cy="530.6" r="1.2" fill="#4BFB28"/>
<circle cx="137.7" cy="530.4" r="1.2" fill="#4BFB28"/>
<circle cx="147.4" cy="530.0" r="1.2" fill="#4BFB28"/>
<circle cx="154.7" cy="531.6" r="1.2" fill="#4BFB28"/>
<circle cx="140.6" cy="530.9" r="1.2" fill="#4BFB28"/>
<circle cx="146.6" cy="531.4" r="1.2" fill="#4BFB28"/>
<circle cx="141.2" cy="531.3" r="1.2" fill="#4BFB28"/>
<circle cx="140.4" cy="531.2" r="1.2" fill="#4BFB28"/>
<circle cx="153.8" cy="531.0" r="1.2" fill="#4BFB28"/>
<circle cx="154.4" cy="531.5" r="1.2" fill="#4BFB28"/>
<circle cx="143.8" cy="531.0" r="1.2" fill="#4BFB28"/>
<circle cx="147.9" cy="531.3" r="1.2" fill="#4BFB28"/>
<circle cx="151.0" cy="532.4" r="1.2" fill="#4BFB28"/>
<circle cx="148.9" cy="532.9" r="1.2" fill="#4BFB28"/>
<circle cx="153.6" cy="532.3" r="1.2" fill="#4BFB28"/>
<circle cx="145.0" cy="532.9" r="1.2" fill="#4BFB28"/>
<circle cx="146.3" cy="532.3" r="1.2" fill="#4BFB28"/>
<circle cx="141.5" cy="531.9" r="1.2" fill="#4BFB28"/>
<circle cx="149.8" cy="532.2" r="1.2" fill="#4BFB28"/>
<circle cx="149.8" cy="532.1" r="1.2" fill="#4BFB28"/>
<circle cx="153.2" cy="532.8" r="1.2" fill="#4BFB28"/>
<circle cx="139.3" cy="533.4" r="1.2" fill="#4BFB28"/>
<circle cx="150.8" cy="533.4" r="1.2" fill="#4BFB28"/>
<circle cx="152.2" cy="533.6" r="1.2" fill="#4BFB28"/>
<circle cx="149.9" cy="533.3" r="1.2" fill="#4BFB28"/>
<circle cx="150.5" cy="533.4" r="1.2" fill="#4BFB28"/>
<circle cx="151.7" cy="533.6" r="1.2" fill="#4BFB28"/>
<circle cx="150.3" cy="533.4" r="1.2" fill="#4BFB28"/>
<circle cx="150.5" cy="533.3" r="1.2" fill="#4BFB28"/>
<circle cx="150.2" cy="534.0" r="1.2" fill="#4BFB28"/>
<circle cx="148.1" cy="533.6" r="1.2" fill="#4BFB28"/>
<circle cx="148.1" cy="533.2" r="1.2" fill="#4BFB28"/>
<circle cx="155.1" cy="534.7" r="1.2" fill="#4BFB28"/>
<circle cx="149.3" cy="534.4" r="1.2" fill="#4BFB28"/>
<circle cx="142.9" cy="534.7" r="1.2" fill="#4BFB28"/>
<circle cx="151.1" cy="535.1" r="1.2" fill="#4BFB28"/>
<circle cx="146.9" cy="535.0" r="1.2" fill="#4BFB28"/>
<circle cx="141.7" cy="534.5" r="1.2" fill="#4BFB28"/>
<circle cx="141.2" cy="535.0" r="1.2" fill="#4BFB28"/>
<circle cx="149.2" cy="534.3" r="1.2" fill="#4BFB28"/>
<circle cx="147.1" cy="534.9" r="1.2" fill="#4BFB28"/>
<circle cx="148.1" cy="535.0" r="1.2" fill="#4BFB28"/>
<circle cx="152.8" cy="534.9" r="1.2" fill="#4BFB28"/>
<circle cx="147.0" cy="535.6" r="1.2" fill="#4BFB28"/>
<circle cx="147.1" cy="535.7" r="1.2" fill="#4BFB28"/>
<circle cx="138.9" cy="535.9" r="1.2" fill="#4BFB28"/>
<circle cx="140.3" cy="536.1" r="1.2" fill="#4BFB28"/>
<circle cx="145.3" cy="535.6" r="1.2" fill="#4BFB28"/>
<circle cx="151.4" cy="535.6" r="1.2" fill="#4BFB28"/>
<circle cx="148.0" cy="536.0" r="1.2" fill="#4BFB28"/>
<circle cx="148.3" cy="536.1" r="1.2" fill="#4BFB28"/>
<circle cx="145.7" cy="536.0" r="1.2" fill="#4BFB28"/>
<circle cx="153.9" cy="535.7" r="1.2" fill="#4BFB28"/>
<circle cx="150.9" cy="536.7" r="1.2" fill="#4BFB28"/>
<circle cx="156.4" cy="536.9" r="1.2" fill="#4BFB28"/>
<circle cx="152.2" cy="536.6" r="1.2" fill="#4BFB28"/>
<circle cx="153.5" cy="537.0" r="1.2" fill="#4BFB28"/>
<circle cx="149.6" cy="537.3" r="1.2" fill="#4BFB28"/>
<circle cx="139.5" cy="537.0" r="1.2" fill="#4BFB28"/>
<circle cx="149.0" cy="536.9" r="1.2" fill="#4BFB28"/>
<circle cx="149.2" cy="536.9" r="1.2" fill="#4BFB28"/>
<circle cx="149.5" cy="537.3" r="1.2" fill="#4BFB28"/>
<circle cx="152.2" cy="536.9" r="1.2" fill="#4BFB28"/>
<circle cx="140.1" cy="537.1" r="1.2" fill="#4BFB28"/>
<circle cx="153.7" cy="536.6" r="1.2" fill="#4BFB28"/>
<circle cx="141.9" cy="538.2" r="1.2" fill="#4BFB28"/>
<circle cx="140.9" cy="538.4" r="1.2" fill="#4BFB28"/>
<circle cx="152.9" cy="538.2" r="1.2" fill="#4BFB28"/>
<circle cx="157.2" cy="538.5" r="1.2" fill="#4BFB28"/>
<circle cx="143.3" cy="538.2" r="1.2" fill="#4BFB28"/>
<circle cx="139.0" cy="537.9" r="1.2" fill="#4BFB28"/>
<circle cx="145.8" cy="537.9" r="1.2" fill="#4BFB28"/>
<circle cx="155.3" cy="538.2" r="1.2" fill="#4BFB28"/>
<circle cx="146.9" cy="539.6" r="1.2" fill="#4BFB28"/>
<circle cx="155.6" cy="539.0" r="1.2" fill="#4BFB28"/>
<circle cx="141.2" cy="539.2" r="1.2" fill="#4BFB28"/>
<circle cx="149.8" cy="539.4" r="1.2" fill="#4BFB28"/>
<circle cx="148.1" cy="539.0" r="1.2" fill="#4BFB28"/>
<circle cx="156.5" cy="538.9" r="1.2" fill="#4BFB28"/>
<circle cx="147.1" cy="539.2" r="1.2" fill="#4BFB28"/>
<circle cx="151.4" cy="539.1" r="1.2" fill="#4BFB28"/>
<circle cx="154.8" cy="539.5" r="1.2" fill="#4BFB28"/>
<circle cx="154.9" cy="539.3" r="1.2" fill="#4BFB28"/>
<circle cx="156.7" cy="539.7" r="1.2" fill="#4BFB28"/>
<circle cx="141.3" cy="539.4" r="1.2" fill="#4BFB28"/>
<circle cx="141.4" cy="540.0" r="1.2" fill="#4BFB28"/>
<circle cx="152.2" cy="540.9" r="1.2" fill="#4BFB28"/>
<circle cx="151.7" cy="540.4" r="1.2" fill="#4BFB28"/>
<circle cx="153.4" cy="540.2" r="1.2" fill="#4BFB28"/>
<circle cx="145.5" cy="540.1" r="1.2" fill="#4BFB28"/>
<circle cx="156.8" cy="540.1" r="1.2" fill="#4BFB28"/>
<circle cx="142.8" cy="540.9" r="1.2" fill="#4BFB28"/>
<circle cx="149.3" cy="540.2" r="1.2" fill="#4BFB28"/>
<circle cx="156.7" cy="540.1" r="1.2" fill="#4BFB28"/>
<circle cx="141.7" cy="540.0" r="1.2" fill="#4BFB28"/>
<circle cx="155.7" cy="540.2" r="1.2" fill="#4BFB28"/>
<circle cx="152.0" cy="540.5" r="1.2" fill="#4BFB28"/>
<circle cx="144.6" cy="541.4" r="1.2" fill="#4BFB28"/>
<circle cx="156.1" cy="541.9" r="1.2" fill="#4BFB28"/>
<circle cx="158.0" cy="541.1" r="1.2" fill="#4BFB28"/>
<circle cx="149.0" cy="541.3" r="1.2" fill="#4BFB28"/>
<circle cx="150.5" cy="541.5" r="1.2" fill="#4BFB28"/>
<circle cx="156.0" cy="542.0" r="1.2" fill="#4BFB28"/>
<circle cx="158.2" cy="541.6" r="1.2" fill="#4BFB28"/>
<circle cx="147.4" cy="541.9" r="1.2" fill="#4BFB28"/>
<circle cx="151.0" cy="541.2" r="1.2" fill="#4BFB28"/>
<circle cx="150.8" cy="541.7" r="1.2" fill="#4BFB28"/>
<circle cx="144.6" cy="543.1" r="1.2" fill="#4BFB28"/>
<circle cx="156.6" cy="543.2" r="1.2" fill="#4BFB28"/>
<circle cx="141.6" cy="543.2" r="1.2" fill="#4BFB28"/>
<circle cx="148.8" cy="542.9" r="1.2" fill="#4BFB28"/>
<circle cx="142.2" cy="542.7" r="1.2" fill="#4BFB28"/>
<circle cx="146.9" cy="542.4" r="1.2" fill="#4BFB28"/>
<circle cx="155.8" cy="542.3" r="1.2" fill="#4BFB28"/>
<circle cx="152.2" cy="542.8" r="1.2" fill="#4BFB28"/>
<circle cx="154.1" cy="544.0" r="1.2" fill="#4BFB28"/>
<circle cx="149.3" cy="544.1" r="1.2" fill="#4BFB28"/>
<circle cx="145.5" cy="544.3" r="1.2" fill="#4BFB28"/>
<circle cx="148.9" cy="544.3" r="1.2" fill="#4BFB28"/>
<circle cx="151.5" cy="543.5" r="1.2" fill="#4BFB28"/>
<circle cx="151.7" cy="543.5" r="1.2" fill="#4BFB28"/>
<circle cx="151.3" cy="543.9" r="1.2" fill="#4BFB28"/>
<circle cx="151.9" cy="543.6" r="1.2" fill="#4BFB28"/>
<circle cx="150.2" cy="543.5" r="1.2" fill="#4BFB28"/>
<circle cx="147.1" cy="543.9" r="1.2" fill="#4BFB28"/>
<circle cx="158.6" cy="545.3" r="1.2" fill="#4BFB28"/>
<circle cx="153.3" cy="544.8" r="1.2" fill="#4BFB28"/>
<circle cx="155.9" cy="544.8" r="1.2" fill="#4BFB28"/>
<circle cx="142.3" cy="545.1" r="1.2" fill="#4BFB28"/>
<circle cx="148.5" cy="544.6" r="1.2" fill="#4BFB28"/>
<circle cx="153.4" cy="545.1" r="1.2" fill="#4BFB28"/>
<circle cx="156.4" cy="544.6" r="1.2" fill="#4BFB28"/>
<circle cx="147.6" cy="545.5" r="1.2" fill="#4BFB28"/>
<circle cx="142.6" cy="545.2" r="1.2" fill="#4BFB28"/>
<circle cx="156.9" cy="545.4" r="1.2" fill="#4BFB28"/>
<circle cx="151.5" cy="544.6" r="1.2" fill="#4BFB28"/>
<circle cx="158.6" cy="545.0" r="1.2" fill="#4BFB28"/>
<circle cx="144.4" cy="546.4" r="1.2" fill="#4BFB28"/>
<circle cx="155.3" cy="546.0" r="1.2" fill="#4BFB28"/>
<circle cx="145.7" cy="545.9" r="1.2" fill="#4BFB28"/>
<circle cx="149.6" cy="546.7" r="1.2" fill="#4BFB28"/>
<circle cx="156.9" cy="546.2" r="1.2" fill="#4BFB28"/>
<circle cx="156.7" cy="546.5" r="1.2" fill="#4BFB28"/>
<circle cx="154.6" cy="546.3" r="1.2" fill="#4BFB28"/>
<circle cx="157.7" cy="545.8" r="1.2" fill="#4BFB28"/>
<circle cx="155.8" cy="545.9" r="1.2" fill="#4BFB28"/>
<circle cx="159.3" cy="546.4" r="1.2" fill="#4BFB28"/>
<circle cx="145.6" cy="546.6" r="1.2" fill="#4BFB28"/>
<circle cx="158.5" cy="546.5" r="1.2" fill="#4BFB28"/>
<circle cx="157.7" cy="547.3" r="1.2" fill="#4BFB28"/>
<circle cx="158.0" cy="547.7" r="1.2" fill="#4BFB28"/>
<circle cx="149.5" cy="547.4" r="1.2" fill="#4BFB28"/>
<circle cx="160.0" cy="547.1" r="1.2" fill="#4BFB28"/>
<circle cx="158.2" cy="547.0" r="1.2" fill="#4BFB28"/>
<circle cx="152.4" cy="547.3" r="1.2" fill="#4BFB28"/>
<circle cx="159.2" cy="547.6" r="1.2" fill="#4BFB28"/>
<circle cx="151.2" cy="547.6" r="1.2" fill="#4BFB28"/>
<circle cx="155.9" cy="547.7" r="1.2" fill="#4BFB28"/>
<circle cx="155.5" cy="547.2" r="1.2" fill="#4BFB28"/>
<circle cx="155.2" cy="548.8" r="1.2" fill="#4BFB28"/>
<circle cx="142.1" cy="548.0" r="1.2" fill="#4BFB28"/>
<circle cx="145.9" cy="548.4" r="1.2" fill="#4BFB28"/>
<circle cx="155.4" cy="548.3" r="1.2" fill="#4BFB28"/>
<circle cx="148.3" cy="548.8" r="1.2" fill="#4BFB28"/>
<circle cx="155.6" cy="548.1" r="1.2" fill="#4BFB28"/>
<circle cx="149.5" cy="548.4" r="1.2" fill="#4BFB28"/>
<circle cx="156.3" cy="548.1" r="1.2" fill="#4BFB28"/>
<circle cx="158.7" cy="548.3" r="1.2" fill="#4BFB28"/>
<circle cx="160.6" cy="548.2" r="1.2" fill="#4BFB28"/>
<circle cx="159.6" cy="548.9" r="1.2" fill="#4BFB28"/>
<circle cx="152.4" cy="550.1" r="1.2" fill="#4BFB28"/>
<circle cx="154.4" cy="549.3" r="1.2" fill="#4BFB28"/>
<circle cx="159.5" cy="549.7" r="1.2" fill="#4BFB28"/>
<circle cx="142.1" cy="550.1" r="1.2" fill="#4BFB28"/>
<circle cx="153.5" cy="549.4" r="1.2" fill="#4BFB28"/>
<circle cx="155.2" cy="549.7" r="1.2" fill="#4BFB28"/>
<circle cx="152.1" cy="550.0" r="1.2" fill="#4BFB28"/>
<circle cx="156.3" cy="550.1" r="1.2" fill="#4BFB28"/>
<circle cx="151.8" cy="549.8" r="1.2" fill="#4BFB28"/>
<circle cx="152.1" cy="549.8" r="1.2" fill="#4BFB28"/>
<circle cx="161.3" cy="550.7" r="1.2" fill="#4BFB28"/>
<circle cx="160.3" cy="550.9" r="1.2" fill="#4BFB28"/>
<circle cx="154.0" cy="551.2" r="1.2" fill="#4BFB28"/>
<circle cx="158.7" cy="550.3" r="1.2" fill="#4BFB28"/>
<circle cx="151.7" cy="551.3" r="1.2" fill="#4BFB28"/>
<circle cx="161.1" cy="550.9" r="1.2" fill="#4BFB28"/>
<circle cx="152.9" cy="550.9" r="1.2" fill="#4BFB28"/>
<circle cx="150.8" cy="550.6" r="1.2" fill="#4BFB28"/>
<circle cx="155.7" cy="551.3" r="1.2" fill="#4BFB28"/>
<circle cx="157.4" cy="551.0" r="1.2" fill="#4BFB28"/>
<circle cx="152.7" cy="551.0" r="1.2" fill="#4BFB28"/>
<circle cx="127.7" cy="511.5" r="1.2" fill="#4BFB28"/>
<circle cx="114.5" cy="449.1" r="1.2" fill="#4BFB28"/>
<circle cx="128.0" cy="527.5" r="1.2" fill="#4BFB28"/>
<circle cx="120.5" cy="471.0" r="1.2" fill="#4BFB28"/>
<circle cx="117.3" cy="490.9" r="1.2" fill="#4BFB28"/>
<circle cx="113.1" cy="449.1" r="1.2" fill="#4BFB28"/>
<circle cx="116.9" cy="450.1" r="1.2" fill="#4BFB28"/>
<circle cx="115.1" cy="436.3" r="1.2" fill="#4BFB28"/>
<circle cx="114.1" cy="475.2" r="1.2" fill="#4BFB28"/>
<circle cx="138.0" cy="543.5" r="1.2" fill="#4BFB28"/>
<circle cx="113.1" cy="466.5" r="1.2" fill="#4BFB28"/>
<circle cx="117.1" cy="453.3" r="1.2" fill="#4BFB28"/>
<circle cx="122.3" cy="481.7" r="1.2" fill="#4BFB28"/>
<circle cx="117.2" cy="460.7" r="1.2" fill="#4BFB28"/>
<circle cx="114.1" cy="475.5" r="1.2" fill="#4BFB28"/>
<circle cx="118.9" cy="461.5" r="1.2" fill="#4BFB28"/>
<circle cx="133.8" cy="537.2" r="1.2" fill="#4BFB28"/>
<circle cx="129.7" cy="528.8" r="1.2" fill="#4BFB28"/>
<circle cx="130.4" cy="521.9" r="1.2" fill="#4BFB28"/>
<circle cx="112.9" cy="447.9" r="1.2" fill="#4BFB28"/>
<circle cx="119.1" cy="485.5" r="1.2" fill="#4BFB28"/>
<circle cx="123.1" cy="509.1" r="1.2" fill="#4BFB28"/>
<circle cx="117.7" cy="462.5" r="1.2" fill="#4BFB28"/>
<circle cx="133.5" cy="538.3" r="1.2" fill="#4BFB28"/>
<circle cx="115.5" cy="464.0" r="1.2" fill="#4BFB28"/>
<circle cx="114.0" cy="460.6" r="1.2" fill="#4BFB28"/>
<circle cx="110.2" cy="434.9" r="1.2" fill="#4BFB28"/>
<circle cx="123.2" cy="496.8" r="1.2" fill="#4BFB28"/>
<circle cx="136.5" cy="540.9" r="1.2" fill="#4BFB28"/>
<circle cx="119.8" cy="458.7" r="1.2" fill="#4BFB28"/>
<circle cx="119.3" cy="494.7" r="1.2" fill="#4BFB28"/>
<circle cx="126.2" cy="510.0" r="1.2" fill="#4BFB28"/>
<circle cx="133.1" cy="525.3" r="1.2" fill="#4BFB28"/>
<circle cx="115.6" cy="466.2" r="1.2" fill="#4BFB28"/>
<circle cx="134.4" cy="544.1" r="1.2" fill="#4BFB28"/>
<circle cx="123.6" cy="511.7" r="1.2" fill="#4BFB28"/>
<circle cx="114.5" cy="476.6" r="1.2" fill="#4BFB28"/>
<circle cx="128.9" cy="517.6" r="1.2" fill="#4BFB28"/>
<circle cx="115.6" cy="476.3" r="1.2" fill="#4BFB28"/>
<circle cx="120.1" cy="471.3" r="1.2" fill="#4BFB28"/>
<circle cx="131.8" cy="532.9" r="1.2" fill="#4BFB28"/>
<circle cx="119.2" cy="491.5" r="1.2" fill="#4BFB28"/>
<circle cx="136.3" cy="536.4" r="1.2" fill="#4BFB28"/>
<circle cx="120.9" cy="470.0" r="1.2" fill="#4BFB28"/>
<circle cx="118.5" cy="478.8" r="1.2" fill="#4BFB28"/>
<circle cx="130.0" cy="530.5" r="1.2" fill="#4BFB28"/>
<circle cx="123.1" cy="498.2" r="1.2" fill="#4BFB28"/>
<circle cx="124.1" cy="497.7" r="1.2" fill="#4BFB28"/>
<circle cx="128.7" cy="529.7" r="1.2" fill="#4BFB28"/>
<circle cx="133.9" cy="528.9" r="1.2" fill="#4BFB28"/>
<circle cx="123.1" cy="509.2" r="1.2" fill="#4BFB28"/>
<circle cx="116.7" cy="489.1" r="1.2" fill="#4BFB28"/>
<circle cx="131.0" cy="536.1" r="1.2" fill="#4BFB28"/>
<circle cx="129.0" cy="526.9" r="1.2" fill="#4BFB28"/>
<circle cx="135.5" cy="533.7" r="1.2" fill="#4BFB28"/>
<circle cx="124.5" cy="513.1" r="1.2" fill="#4BFB28"/>
<circle cx="125.3" cy="502.3" r="1.2" fill="#4BFB28"/>
<circle cx="112.9" cy="437.9" r="1.2" fill="#4BFB28"/>
<circle cx="132.4" cy="527.3" r="1.2" fill="#4BFB28"/>
<circle cx="118.1" cy="455.1" r="1.2" fill="#4BFB28"/>
<circle cx="112.9" cy="441.1" r="1.2" fill="#4BFB28"/>
<circle cx="133.3" cy="545.0" r="1.2" fill="#4BFB28"/>
<circle cx="115.9" cy="472.4" r="1.2" fill="#4BFB28"/>
<circle cx="111.0" cy="438.5" r="1.2" fill="#4BFB28"/>
<circle cx="121.3" cy="468.4" r="1.2" fill="#4BFB28"/>
<circle cx="127.0" cy="504.3" r="1.2" fill="#4BFB28"/>
<circle cx="120.2" cy="462.5" r="1.2" fill="#4BFB28"/>
<circle cx="118.7" cy="482.6" r="1.2" fill="#4BFB28"/>
<circle cx="133.7" cy="525.3" r="1.2" fill="#4BFB28"/>
<circle cx="133.9" cy="527.6" r="1.2" fill="#4BFB28"/>
<circle cx="128.5" cy="520.0" r="1.2" fill="#4BFB28"/>
<circle cx="129.5" cy="522.3" r="1.2" fill="#4BFB28"/>
<circle cx="130.6" cy="524.7" r="1.2" fill="#4BFB28"/>
<circle cx="131.6" cy="527.0" r="1.2" fill="#4BFB28"/>
<circle cx="132.7" cy="529.3" r="1.2" fill="#4BFB28"/>
<circle cx="133.7" cy="531.7" r="1.2" fill="#4BFB28"/>
<circle cx="134.8" cy="534.0" r="1.2" fill="#4BFB28"/>
<circle cx="135.8" cy="536.3" r="1.2" fill="#4BFB28"/>
<circle cx="136.9" cy="538.6" r="1.2" fill="#4BFB28"/>
<circle cx="137.9" cy="541.0" r="1.2" fill="#4BFB28"/>
<circle cx="139.0" cy="543.3" r="1.2" fill="#4BFB28"/>
<circle cx="140.0" cy="545.7" r="1.2" fill="#4BFB28"/>
<circle cx="141.0" cy="548.0" r="1.2" fill="#4BFB28"/>
<circle cx="124.5" cy="500.0" r="1.2" fill="#4BFB28"/>
<circle cx="125.3" cy="502.3" r="1.2" fill="#4BFB28"/>
<circle cx="126.1" cy="504.6" r="1.2" fill="#4BFB28"/>
<circle cx="126.9" cy="507.0" r="1.2" fill="#4BFB28"/>
<circle cx="127.7" cy="509.3" r="1.2" fill="#4BFB28"/>
<circle cx="128.6" cy="511.6" r="1.2" fill="#4BFB28"/>
<circle cx="129.5" cy="513.9" r="1.2" fill="#4BFB28"/>
<circle cx="130.4" cy="516.2" r="1.2" fill="#4BFB28"/>
<circle cx="131.3" cy="518.5" r="1.2" fill="#4BFB28"/>
<circle cx="132.2" cy="520.7" r="1.2" fill="#4BFB28"/>
<circle cx="133.1" cy="523.0" r="1.2" fill="#4BFB28"/>
<circle cx="134.0" cy="525.3" r="1.2" fill="#4BFB28"/>
<circle cx="134.9" cy="527.6" r="1.2" fill="#4BFB28"/>
<circle cx="135.8" cy="529.9" r="1.2" fill="#4BFB28"/>
<circle cx="136.8" cy="532.2" r="1.2" fill="#4BFB28"/>
<circle cx="137.7" cy="534.4" r="1.2" fill="#4BFB28"/>
<circle cx="138.6" cy="536.7" r="1.2" fill="#4BFB28"/>
<circle cx="139.5" cy="539.0" r="1.2" fill="#4BFB28"/>
<polygon points="189.8,550.5 192.3,544.0 195.0,537.5 197.8,531.5 200.5,531.5 203.5,533.5 206.8,536.5 207.4,541.0 206.5,546.0 205.0,550.5" fill="#FF38FF"/>
<circle cx="192.4" cy="542.7" r="1.2" fill="#FF38FF"/>
<circle cx="194.9" cy="535.9" r="1.2" fill="#FF38FF"/>
<circle cx="199.9" cy="533.4" r="1.2" fill="#FF38FF"/>
<circle cx="204.8" cy="533.2" r="1.2" fill="#FF38FF"/>
<circle cx="205.8" cy="546.7" r="1.2" fill="#FF38FF"/>
<circle cx="199.2" cy="529.2" r="1.2" fill="#FF38FF"/>
<circle cx="198.5" cy="538.0" r="1.2" fill="#FF38FF"/>
<circle cx="203.3" cy="541.7" r="1.2" fill="#FF38FF"/>
<circle cx="196.2" cy="540.0" r="1.2" fill="#FF38FF"/>
<circle cx="200.3" cy="533.6" r="1.2" fill="#FF38FF"/>
<circle cx="206.4" cy="550.9" r="1.2" fill="#FF38FF"/>
<circle cx="205.0" cy="550.1" r="1.2" fill="#FF38FF"/>
<circle cx="194.7" cy="550.7" r="1.2" fill="#FF38FF"/>
<circle cx="202.4" cy="544.4" r="1.2" fill="#FF38FF"/>
<circle cx="197.4" cy="536.2" r="1.2" fill="#FF38FF"/>
<circle cx="203.5" cy="540.1" r="1.2" fill="#FF38FF"/>
<circle cx="197.1" cy="532.9" r="1.2" fill="#FF38FF"/>
<circle cx="202.8" cy="532.9" r="1.2" fill="#FF38FF"/>
<circle cx="193.3" cy="541.1" r="1.2" fill="#FF38FF"/>
<circle cx="202.8" cy="550.4" r="1.2" fill="#FF38FF"/>
<circle cx="203.8" cy="549.8" r="1.2" fill="#FF38FF"/>
<circle cx="207.6" cy="544.8" r="1.2" fill="#FF38FF"/>
<circle cx="206.3" cy="544.7" r="1.2" fill="#FF38FF"/>
<circle cx="201.2" cy="534.4" r="1.2" fill="#FF38FF"/>
<circle cx="201.3" cy="550.8" r="1.2" fill="#FF38FF"/>
<circle cx="207.1" cy="546.6" r="1.2" fill="#FF38FF"/>
<circle cx="197.4" cy="530.8" r="1.2" fill="#FF38FF"/>
<circle cx="204.4" cy="539.1" r="1.2" fill="#FF38FF"/>
<circle cx="204.8" cy="539.2" r="1.2" fill="#FF38FF"/>
<circle cx="198.6" cy="533.2" r="1.2" fill="#FF38FF"/>
<circle cx="207.3" cy="544.5" r="1.2" fill="#FF38FF"/>
<circle cx="197.0" cy="545.0" r="1.2" fill="#FF38FF"/>
<circle cx="195.9" cy="546.8" r="1.2" fill="#FF38FF"/>
<circle cx="200.3" cy="537.0" r="1.2" fill="#FF38FF"/>
<circle cx="204.6" cy="538.9" r="1.2" fill="#FF38FF"/>
<circle cx="199.1" cy="530.1" r="1.2" fill="#FF38FF"/>
<circle cx="194.5" cy="542.6" r="1.2" fill="#FF38FF"/>
<circle cx="206.8" cy="539.4" r="1.2" fill="#FF38FF"/>
<circle cx="201.4" cy="533.1" r="1.2" fill="#FF38FF"/>
<circle cx="192.8" cy="548.9" r="1.2" fill="#FF38FF"/>
<circle cx="200.4" cy="531.3" r="1.2" fill="#FF38FF"/>
<circle cx="200.3" cy="542.8" r="1.2" fill="#FF38FF"/>
<circle cx="202.9" cy="538.4" r="1.2" fill="#FF38FF"/>
<circle cx="196.2" cy="543.6" r="1.2" fill="#FF38FF"/>
<circle cx="203.1" cy="533.9" r="1.2" fill="#FF38FF"/>
<circle cx="201.7" cy="544.1" r="1.2" fill="#FF38FF"/>
<circle cx="197.8" cy="531.7" r="1.2" fill="#FF38FF"/>
<circle cx="207.3" cy="542.0" r="1.2" fill="#FF38FF"/>
<circle cx="196.1" cy="546.2" r="1.2" fill="#FF38FF"/>
<circle cx="205.5" cy="542.8" r="1.2" fill="#FF38FF"/>
<circle cx="189.5" cy="550.5" r="1.2" fill="#FF38FF"/>
<circle cx="202.1" cy="549.4" r="1.2" fill="#FF38FF"/>
<circle cx="201.4" cy="549.2" r="1.2" fill="#FF38FF"/>
<circle cx="189.8" cy="550.4" r="1.2" fill="#FF38FF"/>
<circle cx="203.0" cy="532.7" r="1.2" fill="#FF38FF"/>
<circle cx="205.1" cy="532.2" r="1.2" fill="#FF38FF"/>
<circle cx="198.7" cy="530.9" r="1.2" fill="#FF38FF"/>
<circle cx="204.7" cy="548.5" r="1.2" fill="#FF38FF"/>
<circle cx="206.1" cy="541.0" r="1.2" fill="#FF38FF"/>
<circle cx="205.4" cy="539.8" r="1.2" fill="#FF38FF"/>
<circle cx="201.0" cy="541.9" r="1.2" fill="#FF38FF"/>
<circle cx="193.8" cy="537.4" r="1.2" fill="#FF38FF"/>
<circle cx="205.2" cy="538.8" r="1.2" fill="#FF38FF"/>
<circle cx="189.9" cy="550.5" r="1.2" fill="#FF38FF"/>
<circle cx="199.4" cy="536.4" r="1.2" fill="#FF38FF"/>
<circle cx="206.0" cy="547.6" r="1.2" fill="#FF38FF"/>
<circle cx="194.1" cy="545.7" r="1.2" fill="#FF38FF"/>
<circle cx="200.6" cy="540.2" r="1.2" fill="#FF38FF"/>
<circle cx="197.4" cy="537.7" r="1.2" fill="#FF38FF"/>
<circle cx="200.8" cy="543.1" r="1.2" fill="#FF38FF"/>
<circle cx="207.5" cy="545.0" r="1.2" fill="#FF38FF"/>
<circle cx="204.9" cy="549.0" r="1.2" fill="#FF38FF"/>
<circle cx="205.8" cy="544.6" r="1.2" fill="#FF38FF"/>
<circle cx="206.0" cy="538.2" r="1.2" fill="#FF38FF"/>
<circle cx="208.1" cy="538.4" r="1.2" fill="#FF38FF"/>
<circle cx="202.9" cy="534.2" r="1.2" fill="#FF38FF"/>
<circle cx="194.1" cy="536.3" r="1.2" fill="#FF38FF"/>
<circle cx="197.2" cy="550.6" r="1.2" fill="#FF38FF"/>
<circle cx="201.8" cy="549.5" r="1.2" fill="#FF38FF"/>
<circle cx="204.1" cy="547.3" r="1.2" fill="#FF38FF"/>
<circle cx="192.5" cy="548.4" r="1.2" fill="#FF38FF"/>
<circle cx="207.6" cy="535.9" r="1.2" fill="#FF38FF"/>
<circle cx="204.3" cy="545.9" r="1.2" fill="#FF38FF"/>
<circle cx="206.9" cy="546.4" r="1.2" fill="#FF38FF"/>
<circle cx="199.1" cy="530.9" r="1.2" fill="#FF38FF"/>
<circle cx="212.4" cy="543.0" r="1.2" fill="#FF38FF"/>
<circle cx="211.2" cy="545.5" r="1.2" fill="#FF38FF"/>
<circle cx="209.8" cy="548.0" r="1.2" fill="#FF38FF"/>
<circle cx="208.8" cy="550.2" r="1.2" fill="#FF38FF"/>
<circle cx="210.5" cy="537.0" r="1.2" fill="#FF38FF"/>
<circle cx="213.5" cy="541.0" r="1.2" fill="#FF38FF"/>
<circle cx="204.5" cy="507.3" r="1.2" fill="#FF38FF"/>
<circle cx="205.4" cy="509.5" r="1.2" fill="#FF38FF"/>
<circle cx="205.0" cy="510.3" r="1.2" fill="#FF38FF"/>
<circle cx="203.2" cy="514.3" r="1.2" fill="#FF38FF"/>
<circle cx="202.6" cy="518.5" r="1.2" fill="#FF38FF"/>
<circle cx="203.5" cy="521.7" r="1.2" fill="#FF38FF"/>
<circle cx="200.3" cy="524.2" r="1.2" fill="#FF38FF"/>
<circle cx="207.9" cy="525.0" r="1.2" fill="#FF38FF"/>
<circle cx="203.8" cy="528.3" r="1.2" fill="#FF38FF"/>
<circle cx="212.0" cy="498.5" r="1.2" fill="#FF38FF"/>
<circle cx="214.0" cy="482.2" r="1.2" fill="#FF38FF"/>
<circle cx="216.6" cy="484.3" r="1.2" fill="#FF38FF"/>
<circle cx="228.2" cy="506.4" r="1.2" fill="#FF38FF"/>
<circle cx="271.5" cy="508.2" r="1.2" fill="#FF38FF"/>
<circle cx="199.0" cy="526.5" r="1.2" fill="#FF38FF"/>
<circle cx="201.5" cy="526.0" r="1.2" fill="#FF38FF"/>
<circle cx="227.3" cy="530.9" r="1.2" fill="#FF38FF"/>
<circle cx="226.4" cy="532.7" r="1.2" fill="#FF38FF"/>
<circle cx="224.2" cy="537.0" r="1.2" fill="#FF38FF"/>
<circle cx="222.9" cy="538.8" r="1.2" fill="#FF38FF"/>
<circle cx="222.0" cy="540.5" r="1.2" fill="#FF38FF"/>
<circle cx="219.0" cy="545.8" r="1.2" fill="#FF38FF"/>
<circle cx="217.7" cy="547.6" r="1.2" fill="#FF38FF"/>
<circle cx="216.6" cy="549.7" r="1.2" fill="#FF38FF"/>
<circle cx="244.2" cy="551.0" r="1.2" fill="#FF38FF"/>
<circle cx="245.3" cy="549.7" r="1.2" fill="#FF38FF"/>
<circle cx="246.4" cy="548.4" r="1.2" fill="#FF38FF"/>
<circle cx="247.5" cy="547.0" r="1.2" fill="#FF38FF"/>
<circle cx="248.6" cy="545.7" r="1.2" fill="#FF38FF"/>
<circle cx="249.6" cy="544.3" r="1.2" fill="#FF38FF"/>
<circle cx="250.6" cy="542.9" r="1.2" fill="#FF38FF"/>
<circle cx="251.6" cy="541.5" r="1.2" fill="#FF38FF"/>
<circle cx="252.7" cy="540.1" r="1.2" fill="#FF38FF"/>
<circle cx="253.7" cy="538.7" r="1.2" fill="#FF38FF"/>
<circle cx="254.7" cy="537.3" r="1.2" fill="#FF38FF"/>
<circle cx="255.7" cy="535.9" r="1.2" fill="#FF38FF"/>
<circle cx="256.6" cy="534.4" r="1.2" fill="#FF38FF"/>
<circle cx="257.5" cy="533.0" r="1.2" fill="#FF38FF"/>
<circle cx="258.4" cy="531.5" r="1.2" fill="#FF38FF"/>
<circle cx="259.3" cy="530.0" r="1.2" fill="#FF38FF"/>
<circle cx="260.1" cy="528.5" r="1.2" fill="#FF38FF"/>
<circle cx="261.0" cy="527.0" r="1.2" fill="#FF38FF"/>
<circle cx="261.8" cy="525.5" r="1.2" fill="#FF38FF"/>
<circle cx="262.7" cy="524.0" r="1.2" fill="#FF38FF"/>
<line x1="43.15" y1="326.2" x2="43.15" y2="569.3" stroke="#111" stroke-width="1.3"/>
<line x1="42.5" y1="569.0" x2="286.4" y2="569.0" stroke="#111" stroke-width="1.35"/>
<line x1="39.3" y1="326.60" x2="43.3" y2="326.60" stroke="#111" stroke-width="1.1"/>
<text x="37.90" y="330.30" font-size="10.4" text-anchor="end" fill="#1a1a1a" stroke="#1a1a1a" stroke-width="0.2" >30</text>
<line x1="39.3" y1="404.90" x2="43.3" y2="404.90" stroke="#111" stroke-width="1.1"/>
<text x="37.90" y="408.60" font-size="10.4" text-anchor="end" fill="#1a1a1a" stroke="#1a1a1a" stroke-width="0.2" >20</text>
<line x1="39.3" y1="483.20" x2="43.3" y2="483.20" stroke="#111" stroke-width="1.1"/>
<text x="37.90" y="486.90" font-size="10.4" text-anchor="end" fill="#1a1a1a" stroke="#1a1a1a" stroke-width="0.2" >10</text>
<line x1="39.3" y1="551.32" x2="43.3" y2="551.32" stroke="#111" stroke-width="1.1"/>
<text x="37.90" y="553.42" font-size="10.4" text-anchor="end" fill="#1a1a1a" stroke="#1a1a1a" stroke-width="0.2" >1.3</text>
<line x1="39.3" y1="561.50" x2="43.3" y2="561.50" stroke="#111" stroke-width="1.1"/>
<text x="37.90" y="566.10" font-size="10.4" text-anchor="end" fill="#1a1a1a" stroke="#1a1a1a" stroke-width="0.2" >0</text>
<line x1="65.00" y1="568.9" x2="65.00" y2="573.6" stroke="#111" stroke-width="1.2"/>
<text x="64.40" y="584.50" font-size="10.4" text-anchor="middle" fill="#1a1a1a" stroke="#1a1a1a" stroke-width="0.2" >-10</text>
<line x1="120.20" y1="568.9" x2="120.20" y2="573.6" stroke="#111" stroke-width="1.2"/>
<text x="118.10" y="584.50" font-size="10.4" text-anchor="middle" fill="#1a1a1a" stroke="#1a1a1a" stroke-width="0.2" >-5</text>
<line x1="164.36" y1="568.9" x2="164.36" y2="573.6" stroke="#111" stroke-width="1.2"/>
<text x="160.46" y="584.50" font-size="10.4" text-anchor="middle" fill="#1a1a1a" stroke="#1a1a1a" stroke-width="0.2" >-1</text>
<line x1="175.40" y1="568.9" x2="175.40" y2="573.6" stroke="#111" stroke-width="1.2"/>
<text x="175.00" y="584.50" font-size="10.4" text-anchor="middle" fill="#1a1a1a" stroke="#1a1a1a" stroke-width="0.2" >0</text>
<line x1="186.44" y1="568.9" x2="186.44" y2="573.6" stroke="#111" stroke-width="1.2"/>
<text x="186.44" y="584.50" font-size="10.4" text-anchor="middle" fill="#1a1a1a" stroke="#1a1a1a" stroke-width="0.2" >1</text>
<line x1="230.60" y1="568.9" x2="230.60" y2="573.6" stroke="#111" stroke-width="1.2"/>
<text x="230.60" y="584.50" font-size="10.4" text-anchor="middle" fill="#1a1a1a" stroke="#1a1a1a" stroke-width="0.2" >5</text>
<line x1="285.80" y1="568.9" x2="285.80" y2="573.6" stroke="#111" stroke-width="1.2"/>
<text x="285.80" y="584.50" font-size="10.4" text-anchor="middle" fill="#1a1a1a" stroke="#1a1a1a" stroke-width="0.2" >10</text>
<text x="169.70" y="600.40" font-size="13.3" text-anchor="middle" fill="#1a1a1a" stroke="#1a1a1a" stroke-width="0.2" >log2FC</text>
<text x="0" y="0" font-size="12.8" text-anchor="middle" fill="#1a1a1a" stroke="#1a1a1a" stroke-width="0.2" transform="translate(17.3 445.0) rotate(-90)">-log10padj</text>
<line x1="164.5" y1="326.9" x2="164.5" y2="568.4" stroke="#111" stroke-width="1" stroke-dasharray="2.9 2.4"/>
<line x1="186.5" y1="326.9" x2="186.5" y2="568.4" stroke="#111" stroke-width="1" stroke-dasharray="2.9 2.4"/>
<line x1="43.8" y1="551.3" x2="285.5" y2="551.3" stroke="#111" stroke-width="1" stroke-dasharray="2.9 2.4"/>
<circle cx="105.3" cy="351.8" r="1.75" fill="#F01E1E"/>
<circle cx="105.6" cy="354.0" r="1.75" fill="#F01E1E"/>
<circle cx="63.4" cy="448.2" r="1.75" fill="#F01E1E"/>
<circle cx="67.6" cy="464.8" r="1.75" fill="#F01E1E"/>
<circle cx="235.9" cy="455.2" r="1.75" fill="#F01E1E"/>
<circle cx="242.6" cy="455.2" r="1.75" fill="#F01E1E"/>
<circle cx="188.8" cy="550.4" r="1.75" fill="#F01E1E"/>
<circle cx="260.0" cy="528.3" r="1.75" fill="#F01E1E"/>
<text x="95.80" y="348.20" font-size="7.7" text-anchor="start" fill="#1a1a1a" stroke="#1a1a1a" stroke-width="0.2" font-style="italic">NPY</text>
<text x="107.80" y="360.00" font-size="7.7" text-anchor="start" fill="#1a1a1a" stroke="#1a1a1a" stroke-width="0.2" font-style="italic">CYTL1</text>
<text x="66.60" y="451.50" font-size="7.7" text-anchor="start" fill="#1a1a1a" stroke="#1a1a1a" stroke-width="0.2" font-style="italic">FGF9</text>
<text x="70.30" y="469.00" font-size="7.7" text-anchor="start" fill="#1a1a1a" stroke="#1a1a1a" stroke-width="0.2" font-style="italic">EBF3</text>
<text x="211.80" y="450.00" font-size="7.7" text-anchor="start" fill="#1a1a1a" stroke="#1a1a1a" stroke-width="0.2" font-style="italic">PCDHGC3</text>
<text x="239.40" y="467.00" font-size="7.7" text-anchor="start" fill="#1a1a1a" stroke="#1a1a1a" stroke-width="0.2" font-style="italic">NLRP2</text>
<text x="262.50" y="536.70" font-size="7.7" text-anchor="start" fill="#1a1a1a" stroke="#1a1a1a" stroke-width="0.2" font-style="italic">TUBB4A</text>
<text x="0" y="0" font-size="7.7" fill="#1a1a1a" stroke="#1a1a1a" stroke-width="0.2" font-style="italic" text-anchor="middle" transform="translate(183.0 534.2) rotate(-90)">NLRP1</text>
<circle cx="211.2" cy="337.1" r="2.6" fill="#FF38FF"/>
<text x="215.60" y="340.80" font-size="10.6" text-anchor="start" fill="#1a1a1a" stroke="#1a1a1a" stroke-width="0.2" >UP 299</text>
<circle cx="211.2" cy="349.7" r="2.6" fill="#4BFB28"/>
<text x="215.60" y="353.40" font-size="10.6" text-anchor="start" fill="#1a1a1a" stroke="#1a1a1a" stroke-width="0.2" >Down 1,862</text>
<circle cx="211.2" cy="363.1" r="2.6" fill="#64A6FA"/>
<text x="215.60" y="366.80" font-size="10.6" text-anchor="start" fill="#1a1a1a" stroke="#1a1a1a" stroke-width="0.2" >NO 21,708</text>
<rect x="197.00" y="630.85" width="76.30" height="10.20" fill="#E34A33" />
<line x1="193.50" y1="635.95" x2="196.60" y2="635.95" stroke="#222" stroke-width="1" />
<text x="192.90" y="639.30" font-size="10.2" text-anchor="end" fill="#1a1a1a" stroke="#1a1a1a" stroke-width="0.2" >Angiogenesis</text>
<text x="277.34" y="638.10" font-size="11.2" text-anchor="start" fill="#1a1a1a" stroke="#1a1a1a" stroke-width="0.2" >28</text>
<rect x="197.00" y="643.93" width="76.30" height="10.20" fill="#E34A33" />
<line x1="193.50" y1="649.03" x2="196.60" y2="649.03" stroke="#222" stroke-width="1" />
<text x="192.90" y="652.38" font-size="10.2" text-anchor="end" fill="#F02828" stroke="#F02828" stroke-width="0.2" >Cell adhesion</text>
<text x="277.04" y="651.10" font-size="11.2" text-anchor="start" fill="#1a1a1a" stroke="#1a1a1a" stroke-width="0.2" >43</text>
<rect x="197.00" y="657.01" width="76.30" height="10.20" fill="#E34A33" />
<line x1="193.50" y1="662.11" x2="196.60" y2="662.11" stroke="#222" stroke-width="1" />
<text x="192.90" y="665.46" font-size="10.2" text-anchor="end" fill="#F02828" stroke="#F02828" stroke-width="0.2" >Nervous system development</text>
<text x="277.77" y="664.10" font-size="11.2" text-anchor="start" fill="#1a1a1a" stroke="#1a1a1a" stroke-width="0.2" >36</text>
<rect x="197.00" y="670.09" width="73.00" height="10.20" fill="#E34A33" />
<line x1="193.50" y1="675.19" x2="196.60" y2="675.19" stroke="#222" stroke-width="1" />
<text x="192.90" y="678.54" font-size="10.2" text-anchor="end" fill="#F02828" stroke="#F02828" stroke-width="0.2" >Axon guidance</text>
<text x="276.74" y="677.30" font-size="11.2" text-anchor="start" fill="#1a1a1a" stroke="#1a1a1a" stroke-width="0.2" >23</text>
<rect x="197.00" y="683.17" width="46.00" height="10.20" fill="#E34A33" />
<line x1="193.50" y1="688.27" x2="196.60" y2="688.27" stroke="#222" stroke-width="1" />
<text x="192.90" y="691.62" font-size="10.2" text-anchor="end" fill="#F02828" stroke="#F02828" stroke-width="0.2" >Cell-cell adhesion</text>
<text x="245.74" y="690.65" font-size="11.2" text-anchor="start" fill="#1a1a1a" stroke="#1a1a1a" stroke-width="0.2" >20</text>
<rect x="197.00" y="696.25" width="43.90" height="10.20" fill="#E34A33" />
<line x1="193.50" y1="701.35" x2="196.60" y2="701.35" stroke="#222" stroke-width="1" />
<text x="192.90" y="704.70" font-size="10.2" text-anchor="end" fill="#F02828" stroke="#F02828" stroke-width="0.2" >Cell differentiation</text>
<text x="244.14" y="705.15" font-size="11.2" text-anchor="start" fill="#1a1a1a" stroke="#1a1a1a" stroke-width="0.2" >42</text>
<rect x="197.00" y="709.33" width="40.10" height="10.20" fill="#E34A33" />
<line x1="193.50" y1="714.43" x2="196.60" y2="714.43" stroke="#222" stroke-width="1" />
<text x="192.90" y="717.78" font-size="10.2" text-anchor="end" fill="#F02828" stroke="#F02828" stroke-width="0.2" >Positive regulation of synapse assembly</text>
<text x="241.05" y="717.45" font-size="11.2" text-anchor="start" fill="#1a1a1a" stroke="#1a1a1a" stroke-width="0.2" >10</text>
<rect x="197.00" y="722.41" width="191.00" height="10.20" fill="#2800FF" />
<line x1="193.50" y1="727.51" x2="196.60" y2="727.51" stroke="#222" stroke-width="1" />
<text x="192.90" y="730.86" font-size="10.2" text-anchor="end" fill="#1a1a1a" stroke="#1a1a1a" stroke-width="0.2" >Extracellular matrix</text>
<text x="391.27" y="730.90" font-size="11.2" text-anchor="start" fill="#1a1a1a" stroke="#1a1a1a" stroke-width="0.2" >38</text>
<rect x="197.00" y="735.49" width="77.30" height="10.20" fill="#2800FF" />
<line x1="193.50" y1="740.59" x2="196.60" y2="740.59" stroke="#222" stroke-width="1" />
<text x="192.90" y="743.94" font-size="10.2" text-anchor="end" fill="#3030EE" stroke="#3030EE" stroke-width="0.2" >Postsynaptic density membrane</text>
<text x="278.95" y="743.70" font-size="11.2" text-anchor="start" fill="#1a1a1a" stroke="#1a1a1a" stroke-width="0.2" >16</text>
<rect x="197.00" y="748.57" width="73.00" height="10.20" fill="#2800FF" />
<line x1="193.50" y1="753.67" x2="196.60" y2="753.67" stroke="#222" stroke-width="1" />
<text x="192.90" y="757.02" font-size="10.2" text-anchor="end" fill="#3030EE" stroke="#3030EE" stroke-width="0.2" >Glutamatergic synapse</text>
<text x="276.87" y="756.20" font-size="11.2" text-anchor="start" fill="#1a1a1a" stroke="#1a1a1a" stroke-width="0.2" >33</text>
<rect x="197.00" y="761.65" width="55.60" height="10.20" fill="#2800FF" />
<line x1="193.50" y1="766.75" x2="196.60" y2="766.75" stroke="#222" stroke-width="1" />
<text x="192.90" y="770.10" font-size="10.2" text-anchor="end" fill="#3030EE" stroke="#3030EE" stroke-width="0.2" >GABA-ergic synapse</text>
<text x="257.05" y="769.20" font-size="11.2" text-anchor="start" fill="#1a1a1a" stroke="#1a1a1a" stroke-width="0.2" >13</text>
<rect x="197.00" y="774.73" width="38.00" height="10.20" fill="#2800FF" />
<line x1="193.50" y1="779.83" x2="196.60" y2="779.83" stroke="#222" stroke-width="1" />
<text x="192.90" y="782.03" font-size="10.2" text-anchor="end" fill="#3030EE" stroke="#3030EE" stroke-width="0.2" >Dendrite</text>
<text x="240.44" y="782.30" font-size="11.2" text-anchor="start" fill="#1a1a1a" stroke="#1a1a1a" stroke-width="0.2" >29</text>
<rect x="197.00" y="787.81" width="38.00" height="10.20" fill="#2800FF" />
<line x1="193.50" y1="792.91" x2="196.60" y2="792.91" stroke="#222" stroke-width="1" />
<text x="191.00" y="791.81" font-size="10.2" text-anchor="end" fill="#3030EE" stroke="#3030EE" stroke-width="0.2" >Integral component of</text>
<text x="191.00" y="799.81" font-size="10.2" text-anchor="end" fill="#3030EE" stroke="#3030EE" stroke-width="0.2" >postsynaptic density membrane</text>
<text x="240.47" y="793.10" font-size="11.2" text-anchor="start" fill="#1a1a1a" stroke="#1a1a1a" stroke-width="0.2" >9</text>
<rect x="197.00" y="800.89" width="33.90" height="10.20" fill="#2800FF" />
<line x1="193.50" y1="805.99" x2="196.60" y2="805.99" stroke="#222" stroke-width="1" />
<text x="192.90" y="810.29" font-size="10.2" text-anchor="end" fill="#1a1a1a" stroke="#1a1a1a" stroke-width="0.2" >Endoplasmic reticulum lumen</text>
<text x="240.14" y="808.50" font-size="11.2" text-anchor="start" fill="#1a1a1a" stroke="#1a1a1a" stroke-width="0.2" >22</text>
<rect x="197.00" y="813.97" width="78.90" height="10.20" fill="#4DAD88" />
<line x1="193.50" y1="819.07" x2="196.60" y2="819.07" stroke="#222" stroke-width="1" />
<text x="192.90" y="822.77" font-size="10.2" text-anchor="end" fill="#1a1a1a" stroke="#1a1a1a" stroke-width="0.2" >Sequence-specific dsDNA binding</text>
<text x="280.04" y="823.30" font-size="11.2" text-anchor="start" fill="#1a1a1a" stroke="#1a1a1a" stroke-width="0.2" >43</text>
<rect x="197.00" y="827.05" width="78.90" height="10.20" fill="#4DAD88" />
<line x1="193.50" y1="832.15" x2="196.60" y2="832.15" stroke="#222" stroke-width="1" />
<text x="192.90" y="835.50" font-size="10.2" text-anchor="end" fill="#4DAD88" stroke="#4DAD88" stroke-width="0.2" >Extracellular matrix structural constituent</text>
<text x="281.24" y="836.30" font-size="11.2" text-anchor="start" fill="#1a1a1a" stroke="#1a1a1a" stroke-width="0.2" >20</text>
<rect x="197.00" y="840.13" width="65.00" height="10.20" fill="#4DAD88" />
<line x1="193.50" y1="845.23" x2="196.60" y2="845.23" stroke="#222" stroke-width="1" />
<text x="192.90" y="848.73" font-size="10.2" text-anchor="end" fill="#1a1a1a" stroke="#1a1a1a" stroke-width="0.2" >Calcium ion binding</text>
<text x="265.14" y="849.30" font-size="11.2" text-anchor="start" fill="#1a1a1a" stroke="#1a1a1a" stroke-width="0.2" >49</text>
<rect x="197.00" y="853.21" width="50.70" height="10.20" fill="#4DAD88" />
<line x1="193.50" y1="858.31" x2="196.60" y2="858.31" stroke="#222" stroke-width="1" />
<text x="192.90" y="861.66" font-size="10.2" text-anchor="end" fill="#4DAD88" stroke="#4DAD88" stroke-width="0.2" >Extracellular matrix binding</text>
<text x="251.58" y="862.50" font-size="11.2" text-anchor="start" fill="#1a1a1a" stroke="#1a1a1a" stroke-width="0.2" >9</text>
<rect x="197.00" y="866.29" width="35.70" height="10.20" fill="#4DAD88" />
<line x1="193.50" y1="871.39" x2="196.60" y2="871.39" stroke="#222" stroke-width="1" />
<text x="192.90" y="874.74" font-size="10.2" text-anchor="end" fill="#1a1a1a" stroke="#1a1a1a" stroke-width="0.2" >Heparin binding</text>
<text x="236.55" y="874.10" font-size="11.2" text-anchor="start" fill="#1a1a1a" stroke="#1a1a1a" stroke-width="0.2" >17</text>
<rect x="197.00" y="879.37" width="33.60" height="10.20" fill="#4DAD88" />
<line x1="193.50" y1="884.47" x2="196.60" y2="884.47" stroke="#222" stroke-width="1" />
<text x="192.90" y="888.07" font-size="10.2" text-anchor="end" fill="#1a1a1a" stroke="#1a1a1a" stroke-width="0.2" >Ionotropic glutamate receptor activity</text>
<text x="236.83" y="888.20" font-size="11.2" text-anchor="start" fill="#1a1a1a" stroke="#1a1a1a" stroke-width="0.2" >6</text>
<rect x="197.00" y="892.45" width="32.90" height="10.20" fill="#4DAD88" />
<line x1="193.50" y1="897.55" x2="196.60" y2="897.55" stroke="#222" stroke-width="1" />
<text x="192.90" y="900.90" font-size="10.2" text-anchor="end" fill="#1a1a1a" stroke="#1a1a1a" stroke-width="0.2" >Collagen binding</text>
<text x="237.55" y="901.60" font-size="11.2" text-anchor="start" fill="#1a1a1a" stroke="#1a1a1a" stroke-width="0.2" >10</text>
<line x1="196.60" y1="627.00" x2="196.60" y2="904.50" stroke="#111" stroke-width="1.3" />
<line x1="195.95" y1="903.90" x2="405.80" y2="903.90" stroke="#111" stroke-width="1.3" />
<line x1="196.70" y1="903.90" x2="196.70" y2="906.90" stroke="#111" stroke-width="1.2" />
<text x="196.00" y="917.60" font-size="10.8" text-anchor="middle" fill="#1a1a1a" stroke="#1a1a1a" stroke-width="0.2" >0</text>
<line x1="218.90" y1="903.90" x2="218.90" y2="906.90" stroke="#111" stroke-width="1.2" />
<text x="218.90" y="917.60" font-size="10.8" text-anchor="middle" fill="#1a1a1a" stroke="#1a1a1a" stroke-width="0.2" >2.5</text>
<line x1="256.30" y1="903.90" x2="256.30" y2="906.90" stroke="#111" stroke-width="1.2" />
<text x="256.30" y="917.60" font-size="10.8" text-anchor="middle" fill="#1a1a1a" stroke="#1a1a1a" stroke-width="0.2" >5.0</text>
<line x1="293.30" y1="903.90" x2="293.30" y2="906.90" stroke="#111" stroke-width="1.2" />
<text x="293.30" y="917.60" font-size="10.8" text-anchor="middle" fill="#1a1a1a" stroke="#1a1a1a" stroke-width="0.2" >7.5</text>
<line x1="330.70" y1="903.90" x2="330.70" y2="906.90" stroke="#111" stroke-width="1.2" />
<text x="330.70" y="917.60" font-size="10.8" text-anchor="middle" fill="#1a1a1a" stroke="#1a1a1a" stroke-width="0.2" >10.0</text>
<line x1="366.40" y1="903.90" x2="366.40" y2="906.90" stroke="#111" stroke-width="1.2" />
<text x="366.40" y="917.60" font-size="10.8" text-anchor="middle" fill="#1a1a1a" stroke="#1a1a1a" stroke-width="0.2" >12.5</text>
<text x="296.00" y="935.60" font-size="12.7" text-anchor="middle" fill="#1a1a1a" stroke="#1a1a1a" stroke-width="0.2" >-log10(pvalue)</text>
<rect x="297.90" y="634.60" width="10.00" height="6.30" fill="#E34A33" />
<text x="311.00" y="641.50" font-size="11.1" text-anchor="start" fill="#1a1a1a" stroke="#1a1a1a" stroke-width="0.2" >Biological process</text>
<rect x="297.90" y="648.20" width="10.00" height="6.30" fill="#2800FF" />
<text x="311.00" y="655.10" font-size="11.1" text-anchor="start" fill="#1a1a1a" stroke="#1a1a1a" stroke-width="0.2" >Cellular component</text>
<rect x="297.90" y="661.50" width="10.00" height="6.30" fill="#4DAD88" />
<text x="311.00" y="668.40" font-size="11.1" text-anchor="start" fill="#1a1a1a" stroke="#1a1a1a" stroke-width="0.2" >Molecular function</text>
<defs><linearGradient id="gd" x1="0" y1="1" x2="0" y2="0"><stop offset="0" stop-color="#EE2A24"/><stop offset="0.25" stop-color="#DC2A58"/><stop offset="0.5" stop-color="#B4289A"/><stop offset="0.75" stop-color="#70389E"/><stop offset="1" stop-color="#3D4DA3"/></linearGradient></defs>
<rect x="480.15" y="20.15" width="159.40" height="242.30" fill="none" stroke="#000" stroke-width="1.35"/>
<text x="554.90" y="13.80" font-size="12.9" text-anchor="middle" fill="#1a1a1a" stroke="#1a1a1a" stroke-width="0.2" >KEGG Pathway</text>
<line x1="477.00" y1="33.60" x2="480.15" y2="33.60" stroke="#000" stroke-width="1.2" />
<text x="473.90" y="36.40" font-size="11.2" text-anchor="end" fill="#E8262A" stroke="#E8262A" stroke-width="0.2" >ECM−receptor interaction</text>
<circle cx="630.40" cy="33.60" r="3.70" fill="#E8282A" />
<line x1="477.00" y1="57.53" x2="480.15" y2="57.53" stroke="#000" stroke-width="1.2" />
<text x="473.90" y="62.63" font-size="11.2" text-anchor="end" fill="#E8262A" stroke="#E8262A" stroke-width="0.2" >Axon guidance</text>
<circle cx="577.60" cy="57.53" r="4.70" fill="#E8282A" />
<line x1="477.00" y1="81.46" x2="480.15" y2="81.46" stroke="#000" stroke-width="1.2" />
<text x="473.90" y="86.36" font-size="11.2" text-anchor="end" fill="#1a1a1a" stroke="#1a1a1a" stroke-width="0.2" >Focal adhesion</text>
<circle cx="568.30" cy="81.46" r="4.90" fill="#E8282A" />
<line x1="477.00" y1="105.39" x2="480.15" y2="105.39" stroke="#000" stroke-width="1.2" />
<text x="473.90" y="109.29" font-size="11.2" text-anchor="end" fill="#E8262A" stroke="#E8262A" stroke-width="0.2" >PI3K−Akt signaling pathway</text>
<circle cx="543.10" cy="105.39" r="6.10" fill="#E8282A" />
<line x1="477.00" y1="129.32" x2="480.15" y2="129.32" stroke="#000" stroke-width="1.2" />
<text x="473.90" y="133.22" font-size="11.2" text-anchor="end" fill="#1a1a1a" stroke="#1a1a1a" stroke-width="0.2" >Proteoglycans in cancer</text>
<circle cx="539.30" cy="129.32" r="4.70" fill="#E8282A" />
<line x1="477.00" y1="153.25" x2="480.15" y2="153.25" stroke="#000" stroke-width="1.2" />
<text x="473.90" y="156.70" font-size="11.2" text-anchor="end" fill="#1a1a1a" stroke="#1a1a1a" stroke-width="0.2" >Hippo signaling pathway</text>
<circle cx="526.10" cy="153.25" r="4.10" fill="#E8282A" />
<line x1="477.00" y1="177.18" x2="480.15" y2="177.18" stroke="#000" stroke-width="1.2" />
<text x="473.90" y="180.63" font-size="11.2" text-anchor="end" fill="#1a1a1a" stroke="#1a1a1a" stroke-width="0.2" >TGF−beta signaling pathway</text>
<circle cx="504.80" cy="177.18" r="1.90" fill="#EA2A2E" />
<line x1="477.00" y1="201.11" x2="480.15" y2="201.11" stroke="#000" stroke-width="1.2" />
<text x="473.90" y="204.56" font-size="11.2" text-anchor="end" fill="#1a1a1a" stroke="#1a1a1a" stroke-width="0.2" >Calcium signaling pathway</text>
<circle cx="497.80" cy="201.11" r="4.70" fill="#D9284E" />
<line x1="477.00" y1="225.04" x2="480.15" y2="225.04" stroke="#000" stroke-width="1.2" />
<text x="473.90" y="228.49" font-size="11.2" text-anchor="end" fill="#1a1a1a" stroke="#1a1a1a" stroke-width="0.2" >Protein digestion and absorption</text>
<circle cx="494.60" cy="225.04" r="1.70" fill="#CD2C7A" />
<line x1="477.00" y1="248.97" x2="480.15" y2="248.97" stroke="#000" stroke-width="1.2" />
<text x="473.90" y="251.97" font-size="11.2" text-anchor="end" fill="#1a1a1a" stroke="#1a1a1a" stroke-width="0.2" >Rap1 signaling pathway</text>
<circle cx="487.70" cy="248.97" r="4.20" fill="#3451A6" />
<line x1="480.60" y1="262.45" x2="480.60" y2="265.45" stroke="#111" stroke-width="1" />
<text x="480.60" y="274.50" font-size="10.2" text-anchor="middle" fill="#1a1a1a" stroke="#1a1a1a" stroke-width="0.2" >6</text>
<line x1="511.90" y1="262.45" x2="511.90" y2="265.45" stroke="#111" stroke-width="1" />
<text x="511.90" y="274.50" font-size="10.2" text-anchor="middle" fill="#1a1a1a" stroke="#1a1a1a" stroke-width="0.2" >8</text>
<line x1="543.30" y1="262.45" x2="543.30" y2="265.45" stroke="#111" stroke-width="1" />
<text x="543.30" y="274.50" font-size="10.2" text-anchor="middle" fill="#1a1a1a" stroke="#1a1a1a" stroke-width="0.2" >10</text>
<line x1="574.40" y1="262.45" x2="574.40" y2="265.45" stroke="#111" stroke-width="1" />
<text x="574.40" y="274.50" font-size="10.2" text-anchor="middle" fill="#1a1a1a" stroke="#1a1a1a" stroke-width="0.2" >12</text>
<line x1="605.40" y1="262.45" x2="605.40" y2="265.45" stroke="#111" stroke-width="1" />
<text x="605.40" y="274.50" font-size="10.2" text-anchor="middle" fill="#1a1a1a" stroke="#1a1a1a" stroke-width="0.2" >14</text>
<line x1="636.50" y1="262.45" x2="636.50" y2="265.45" stroke="#111" stroke-width="1" />
<text x="636.50" y="274.50" font-size="10.2" text-anchor="middle" fill="#1a1a1a" stroke="#1a1a1a" stroke-width="0.2" >16</text>
<text x="559.30" y="288.70" font-size="12.0" text-anchor="middle" fill="#1a1a1a" stroke="#1a1a1a" stroke-width="0.2" >Enrichment Score (-log10(pvalue))</text>
<text x="646.00" y="63.60" font-size="9.4" text-anchor="start" fill="#1a1a1a" stroke="#1a1a1a" stroke-width="0.2" >Count</text>
<rect x="646.00" y="68.00" width="14.20" height="57.20" fill="#F2F2F2" />
<circle cx="653.10" cy="75.10" r="3.20" fill="#000" />
<text x="662.00" y="77.90" font-size="9.4" text-anchor="start" fill="#1a1a1a" stroke="#1a1a1a" stroke-width="0.2" >30</text>
<circle cx="653.10" cy="89.60" r="4.30" fill="#000" />
<text x="662.00" y="92.40" font-size="9.4" text-anchor="start" fill="#1a1a1a" stroke="#1a1a1a" stroke-width="0.2" >40</text>
<circle cx="653.10" cy="103.40" r="4.90" fill="#000" />
<text x="662.00" y="106.20" font-size="9.4" text-anchor="start" fill="#1a1a1a" stroke="#1a1a1a" stroke-width="0.2" >50</text>
<circle cx="653.10" cy="117.70" r="6.00" fill="#000" />
<text x="662.00" y="120.50" font-size="9.4" text-anchor="start" fill="#1a1a1a" stroke="#1a1a1a" stroke-width="0.2" >60</text>
<text x="646.50" y="151.50" font-size="9.4" text-anchor="start" fill="#1a1a1a" stroke="#1a1a1a" stroke-width="0.2" >pvalue</text>
<rect x="646.00" y="156.00" width="14.20" height="71.70" fill="url(#gd)" />
<line x1="654.00" y1="172.00" x2="659.60" y2="172.00" stroke="#ddd" stroke-width="0.8" />
<text x="660.60" y="175.40" font-size="9.4" text-anchor="start" fill="#1a1a1a" stroke="#1a1a1a" stroke-width="0.2" >3e-07</text>
<line x1="654.00" y1="190.60" x2="659.60" y2="190.60" stroke="#ddd" stroke-width="0.8" />
<text x="660.60" y="194.00" font-size="9.4" text-anchor="start" fill="#1a1a1a" stroke="#1a1a1a" stroke-width="0.2" >2e-07</text>
<line x1="654.00" y1="209.10" x2="659.60" y2="209.10" stroke="#ddd" stroke-width="0.8" />
<text x="660.60" y="212.50" font-size="9.4" text-anchor="start" fill="#1a1a1a" stroke="#1a1a1a" stroke-width="0.2" >1e-07</text>
<rect x="479.40" y="326.60" width="137.50" height="242.40" fill="none" stroke="#000" stroke-width="1.35"/>
<text x="548.20" y="323.00" font-size="12.0" text-anchor="middle" fill="#1a1a1a" stroke="#1a1a1a" stroke-width="0.2" >GO Molecular Function</text>
<line x1="476.40" y1="340.10" x2="479.40" y2="340.10" stroke="#000" stroke-width="1.2" />
<text x="473.90" y="343.30" font-size="11.2" text-anchor="end" fill="#E8262A" stroke="#E8262A" stroke-width="0.2" >Immune receptor activity</text>
<circle cx="606.70" cy="340.10" r="6.00" fill="#E8282A" />
<line x1="476.40" y1="364.04" x2="479.40" y2="364.04" stroke="#000" stroke-width="1.2" />
<text x="473.90" y="367.24" font-size="11.2" text-anchor="end" fill="#1a1a1a" stroke="#1a1a1a" stroke-width="0.2" >C−C chemokine receptor activity</text>
<circle cx="593.70" cy="364.04" r="1.70" fill="#E8282A" />
<line x1="476.40" y1="387.98" x2="479.40" y2="387.98" stroke="#000" stroke-width="1.2" />
<text x="473.90" y="385.98" font-size="11.2" text-anchor="end" fill="#1a1a1a" stroke="#1a1a1a" stroke-width="0.2" >3',5'-cyclic nucleotide</text>
<text x="473.90" y="395.88" font-size="11.2" text-anchor="end" fill="#1a1a1a" stroke="#1a1a1a" stroke-width="0.2" >phosphodiesterase activity</text>
<circle cx="593.70" cy="387.98" r="1.70" fill="#E8282A" />
<line x1="476.40" y1="411.92" x2="479.40" y2="411.92" stroke="#000" stroke-width="1.2" />
<text x="473.90" y="415.12" font-size="11.2" text-anchor="end" fill="#1a1a1a" stroke="#1a1a1a" stroke-width="0.2" >C−C chemokine binding</text>
<circle cx="586.00" cy="411.92" r="1.70" fill="#E8282A" />
<line x1="476.40" y1="435.86" x2="479.40" y2="435.86" stroke="#000" stroke-width="1.2" />
<text x="473.90" y="433.86" font-size="11.2" text-anchor="end" fill="#1a1a1a" stroke="#1a1a1a" stroke-width="0.2" >Cyclic-nucleotide</text>
<text x="473.90" y="443.76" font-size="11.2" text-anchor="end" fill="#1a1a1a" stroke="#1a1a1a" stroke-width="0.2" >phosphodiesterase activity</text>
<circle cx="578.70" cy="435.86" r="1.70" fill="#E8282A" />
<line x1="476.40" y1="459.80" x2="479.40" y2="459.80" stroke="#000" stroke-width="1.2" />
<text x="473.90" y="457.80" font-size="11.2" text-anchor="end" fill="#1a1a1a" stroke="#1a1a1a" stroke-width="0.2" >G protein−coupled</text>
<text x="473.90" y="467.70" font-size="11.2" text-anchor="end" fill="#1a1a1a" stroke="#1a1a1a" stroke-width="0.2" >chemoattractant receptor activity</text>
<circle cx="571.50" cy="459.80" r="1.70" fill="#E8282A" />
<line x1="476.40" y1="483.74" x2="479.40" y2="483.74" stroke="#000" stroke-width="1.2" />
<text x="473.90" y="486.14" font-size="11.2" text-anchor="end" fill="#1a1a1a" stroke="#1a1a1a" stroke-width="0.2" >Chemokine receptor activity</text>
<circle cx="571.50" cy="483.74" r="1.70" fill="#E8282A" />
<line x1="476.40" y1="507.68" x2="479.40" y2="507.68" stroke="#000" stroke-width="1.2" />
<text x="473.90" y="510.08" font-size="11.2" text-anchor="end" fill="#1a1a1a" stroke="#1a1a1a" stroke-width="0.2" >Chemokine binding</text>
<circle cx="529.60" cy="507.68" r="1.60" fill="#B82A9C" />
<line x1="476.40" y1="531.62" x2="479.40" y2="531.62" stroke="#000" stroke-width="1.2" />
<text x="473.90" y="534.02" font-size="11.2" text-anchor="end" fill="#1a1a1a" stroke="#1a1a1a" stroke-width="0.2" >Cargo receptor activity</text>
<circle cx="521.30" cy="531.62" r="4.10" fill="#C02C9E" />
<line x1="476.40" y1="555.56" x2="479.40" y2="555.56" stroke="#000" stroke-width="1.2" />
<text x="473.90" y="557.96" font-size="11.2" text-anchor="end" fill="#1a1a1a" stroke="#1a1a1a" stroke-width="0.2" >Beta−catenin binding</text>
<circle cx="488.30" cy="555.56" r="4.10" fill="#3451A6" />
<line x1="484.80" y1="569.00" x2="484.80" y2="572.00" stroke="#111" stroke-width="1" />
<text x="484.80" y="582.90" font-size="10.2" text-anchor="middle" fill="#1a1a1a" stroke="#1a1a1a" stroke-width="0.2" >2.4</text>
<line x1="512.40" y1="569.00" x2="512.40" y2="572.00" stroke="#111" stroke-width="1" />
<text x="512.40" y="582.90" font-size="10.2" text-anchor="middle" fill="#1a1a1a" stroke="#1a1a1a" stroke-width="0.2" >2.6</text>
<line x1="540.00" y1="569.00" x2="540.00" y2="572.00" stroke="#111" stroke-width="1" />
<text x="540.00" y="582.90" font-size="10.2" text-anchor="middle" fill="#1a1a1a" stroke="#1a1a1a" stroke-width="0.2" >2.8</text>
<line x1="567.50" y1="569.00" x2="567.50" y2="572.00" stroke="#111" stroke-width="1" />
<text x="567.50" y="582.90" font-size="10.2" text-anchor="middle" fill="#1a1a1a" stroke="#1a1a1a" stroke-width="0.2" >3.0</text>
<line x1="595.00" y1="569.00" x2="595.00" y2="572.00" stroke="#111" stroke-width="1" />
<text x="595.00" y="582.90" font-size="10.2" text-anchor="middle" fill="#1a1a1a" stroke="#1a1a1a" stroke-width="0.2" >3.2</text>
<text x="543.00" y="594.60" font-size="12.0" text-anchor="middle" fill="#1a1a1a" stroke="#1a1a1a" stroke-width="0.2" >Enrichment Score (-log10(pvalue))</text>
<text x="631.40" y="369.60" font-size="9.4" text-anchor="start" fill="#1a1a1a" stroke="#1a1a1a" stroke-width="0.2" >Count</text>
<rect x="631.20" y="374.50" width="14.70" height="57.40" fill="#F2F2F2" />
<circle cx="638.50" cy="381.50" r="1.50" fill="#000" />
<text x="650.00" y="384.90" font-size="9.4" text-anchor="start" fill="#1a1a1a" stroke="#1a1a1a" stroke-width="0.2" >3</text>
<circle cx="638.50" cy="395.70" r="4.00" fill="#000" />
<text x="650.00" y="399.10" font-size="9.4" text-anchor="start" fill="#1a1a1a" stroke="#1a1a1a" stroke-width="0.2" >4</text>
<circle cx="638.50" cy="410.00" r="5.10" fill="#000" />
<text x="650.00" y="413.40" font-size="9.4" text-anchor="start" fill="#1a1a1a" stroke="#1a1a1a" stroke-width="0.2" >5</text>
<circle cx="638.50" cy="424.90" r="6.20" fill="#000" />
<text x="650.00" y="428.30" font-size="9.4" text-anchor="start" fill="#1a1a1a" stroke="#1a1a1a" stroke-width="0.2" >6</text>
<text x="631.60" y="457.80" font-size="9.4" text-anchor="start" fill="#1a1a1a" stroke="#1a1a1a" stroke-width="0.2" >pvalue</text>
<defs><linearGradient id="ge" x1="0" y1="1" x2="0" y2="0"><stop offset="0" stop-color="#EE2A24"/><stop offset="0.25" stop-color="#DC2A58"/><stop offset="0.5" stop-color="#B4289A"/><stop offset="0.75" stop-color="#70389E"/><stop offset="1" stop-color="#3D4DA3"/></linearGradient></defs>
<rect x="631.20" y="463.20" width="14.00" height="70.80" fill="url(#ge)" />
<line x1="631.20" y1="477.60" x2="633.80" y2="477.60" stroke="#ddd" stroke-width="0.8" />
<line x1="642.40" y1="477.60" x2="645.20" y2="477.60" stroke="#ddd" stroke-width="0.8" />
<text x="649.50" y="480.70" font-size="9.4" text-anchor="start" fill="#1a1a1a" stroke="#1a1a1a" stroke-width="0.2" >0.003</text>
<line x1="631.20" y1="500.20" x2="633.80" y2="500.20" stroke="#ddd" stroke-width="0.8" />
<line x1="642.40" y1="500.20" x2="645.20" y2="500.20" stroke="#ddd" stroke-width="0.8" />
<text x="649.50" y="503.30" font-size="9.4" text-anchor="start" fill="#1a1a1a" stroke="#1a1a1a" stroke-width="0.2" >0.002</text>
<line x1="631.20" y1="522.60" x2="633.80" y2="522.60" stroke="#ddd" stroke-width="0.8" />
<line x1="642.40" y1="522.60" x2="645.20" y2="522.60" stroke="#ddd" stroke-width="0.8" />
<text x="649.50" y="525.70" font-size="9.4" text-anchor="start" fill="#1a1a1a" stroke="#1a1a1a" stroke-width="0.2" >0.001</text>
<line x1="481.30" y1="672.65" x2="481.30" y2="903.80" stroke="#000" stroke-width="1.2" />
<line x1="481.30" y1="903.30" x2="676.80" y2="903.30" stroke="#000" stroke-width="1.2" />
<line x1="473.20" y1="903.30" x2="481.30" y2="903.30" stroke="#000" stroke-width="1.2" />
<text x="470.40" y="907.30" font-size="11.5" text-anchor="end" fill="#1a1a1a" stroke="#1a1a1a" stroke-width="0.2" >0</text>
<line x1="473.20" y1="857.27" x2="481.30" y2="857.27" stroke="#000" stroke-width="1.2" />
<text x="470.40" y="861.27" font-size="11.5" text-anchor="end" fill="#1a1a1a" stroke="#1a1a1a" stroke-width="0.2" >1.0</text>
<line x1="473.20" y1="811.24" x2="481.30" y2="811.24" stroke="#000" stroke-width="1.2" />
<text x="470.40" y="815.24" font-size="11.5" text-anchor="end" fill="#1a1a1a" stroke="#1a1a1a" stroke-width="0.2" >2.0</text>
<line x1="473.20" y1="765.21" x2="481.30" y2="765.21" stroke="#000" stroke-width="1.2" />
<text x="470.40" y="769.21" font-size="11.5" text-anchor="end" fill="#1a1a1a" stroke="#1a1a1a" stroke-width="0.2" >3.0</text>
<line x1="473.20" y1="719.18" x2="481.30" y2="719.18" stroke="#000" stroke-width="1.2" />
<text x="470.40" y="723.18" font-size="11.5" text-anchor="end" fill="#1a1a1a" stroke="#1a1a1a" stroke-width="0.2" >4.0</text>
<line x1="473.20" y1="673.15" x2="481.30" y2="673.15" stroke="#000" stroke-width="1.2" />
<text x="470.40" y="677.15" font-size="11.5" text-anchor="end" fill="#1a1a1a" stroke="#1a1a1a" stroke-width="0.2" >5.0</text>
<line x1="529.60" y1="903.30" x2="529.60" y2="912.00" stroke="#000" stroke-width="1.3" />
<line x1="628.30" y1="903.30" x2="628.30" y2="912.00" stroke="#000" stroke-width="1.3" />
<text x="0.00" y="0.00" font-size="1" text-anchor="start" fill="#1a1a1a" stroke="#1a1a1a" stroke-width="0.2" ></text>
<text x="0" y="0" font-size="13.2" text-anchor="middle" fill="#1a1a1a" stroke="#1a1a1a" stroke-width="0.2" transform="translate(449.0 789.0) rotate(-90)">Relative mRNA level</text>
<line x1="509.00" y1="861.18" x2="509.00" y2="857.27" stroke="#000" stroke-width="1.2" />
<line x1="502.30" y1="857.27" x2="515.70" y2="857.27" stroke="#000" stroke-width="1.2" />
<rect x="495.60" y="861.18" width="26.80" height="42.12" fill="#000" stroke="#000" stroke-width="1.2"/>
<line x1="550.00" y1="801.80" x2="550.00" y2="785.00" stroke="#000" stroke-width="1.2" />
<line x1="543.30" y1="785.00" x2="556.70" y2="785.00" stroke="#000" stroke-width="1.2" />
<rect x="536.60" y="801.80" width="26.80" height="101.50" fill="#EE2A24" stroke="#000" stroke-width="1.2"/>
<line x1="607.90" y1="857.50" x2="607.90" y2="855.66" stroke="#000" stroke-width="1.2" />
<line x1="601.20" y1="855.66" x2="614.60" y2="855.66" stroke="#000" stroke-width="1.2" />
<rect x="594.50" y="857.50" width="26.80" height="45.80" fill="#000" stroke="#000" stroke-width="1.2"/>
<line x1="648.70" y1="734.37" x2="648.70" y2="713.66" stroke="#000" stroke-width="1.2" />
<line x1="642.00" y1="713.66" x2="655.40" y2="713.66" stroke="#000" stroke-width="1.2" />
<rect x="634.90" y="734.37" width="27.60" height="168.93" fill="#EE2A24" stroke="#000" stroke-width="1.2"/>
<polyline points="509.0,779.5 509.0,773.5 549.8,773.5 549.8,779.5" fill="none" stroke="#000" stroke-width="1.15"/>
<polyline points="607.6,709.4 607.6,703.6 648.4,703.6 648.4,709.4" fill="none" stroke="#000" stroke-width="1.15"/>
<line x1="529.55" y1="768.10" x2="529.55" y2="765.10" stroke="#000" stroke-width="1.25" stroke-linecap="butt"/>
<line x1="529.55" y1="768.10" x2="532.40" y2="767.17" stroke="#000" stroke-width="1.25" stroke-linecap="butt"/>
<line x1="529.55" y1="768.10" x2="531.31" y2="770.53" stroke="#000" stroke-width="1.25" stroke-linecap="butt"/>
<line x1="529.55" y1="768.10" x2="527.79" y2="770.53" stroke="#000" stroke-width="1.25" stroke-linecap="butt"/>
<line x1="529.55" y1="768.10" x2="526.70" y2="767.17" stroke="#000" stroke-width="1.25" stroke-linecap="butt"/>
<line x1="625.80" y1="698.40" x2="625.80" y2="695.40" stroke="#000" stroke-width="1.25" stroke-linecap="butt"/>
<line x1="625.80" y1="698.40" x2="628.65" y2="697.47" stroke="#000" stroke-width="1.25" stroke-linecap="butt"/>
<line x1="625.80" y1="698.40" x2="627.56" y2="700.83" stroke="#000" stroke-width="1.25" stroke-linecap="butt"/>
<line x1="625.80" y1="698.40" x2="624.04" y2="700.83" stroke="#000" stroke-width="1.25" stroke-linecap="butt"/>
<line x1="625.80" y1="698.40" x2="622.95" y2="697.47" stroke="#000" stroke-width="1.25" stroke-linecap="butt"/>
<line x1="632.20" y1="698.40" x2="632.20" y2="695.40" stroke="#000" stroke-width="1.25" stroke-linecap="butt"/>
<line x1="632.20" y1="698.40" x2="635.05" y2="697.47" stroke="#000" stroke-width="1.25" stroke-linecap="butt"/>
<line x1="632.20" y1="698.40" x2="633.96" y2="700.83" stroke="#000" stroke-width="1.25" stroke-linecap="butt"/>
<line x1="632.20" y1="698.40" x2="630.44" y2="700.83" stroke="#000" stroke-width="1.25" stroke-linecap="butt"/>
<line x1="632.20" y1="698.40" x2="629.35" y2="697.47" stroke="#000" stroke-width="1.25" stroke-linecap="butt"/>
<rect x="507.20" y="677.60" width="18.00" height="3.60" fill="#000" />
<rect x="507.20" y="691.20" width="18.00" height="3.60" fill="#EE2A24" stroke="#000" stroke-width="0.6"/>
<text x="535.00" y="683.60" font-size="12.1" text-anchor="start" fill="#1a1a1a" stroke="#1a1a1a" stroke-width="0.2" >Ctrl</text>
<text x="535.00" y="698.40" font-size="12.1" text-anchor="start" fill="#1a1a1a" stroke="#1a1a1a" stroke-width="0.2" >MT</text>
<text x="533.10" y="925.70" font-size="11.8" text-anchor="middle" fill="#1a1a1a" stroke="#1a1a1a" stroke-width="0.2" font-style="italic">NLRP1</text>
<text x="628.30" y="925.70" font-size="11.8" text-anchor="middle" fill="#1a1a1a" stroke="#1a1a1a" stroke-width="0.2" font-style="italic">TUBB4A</text>
</svg>
</body></html>
